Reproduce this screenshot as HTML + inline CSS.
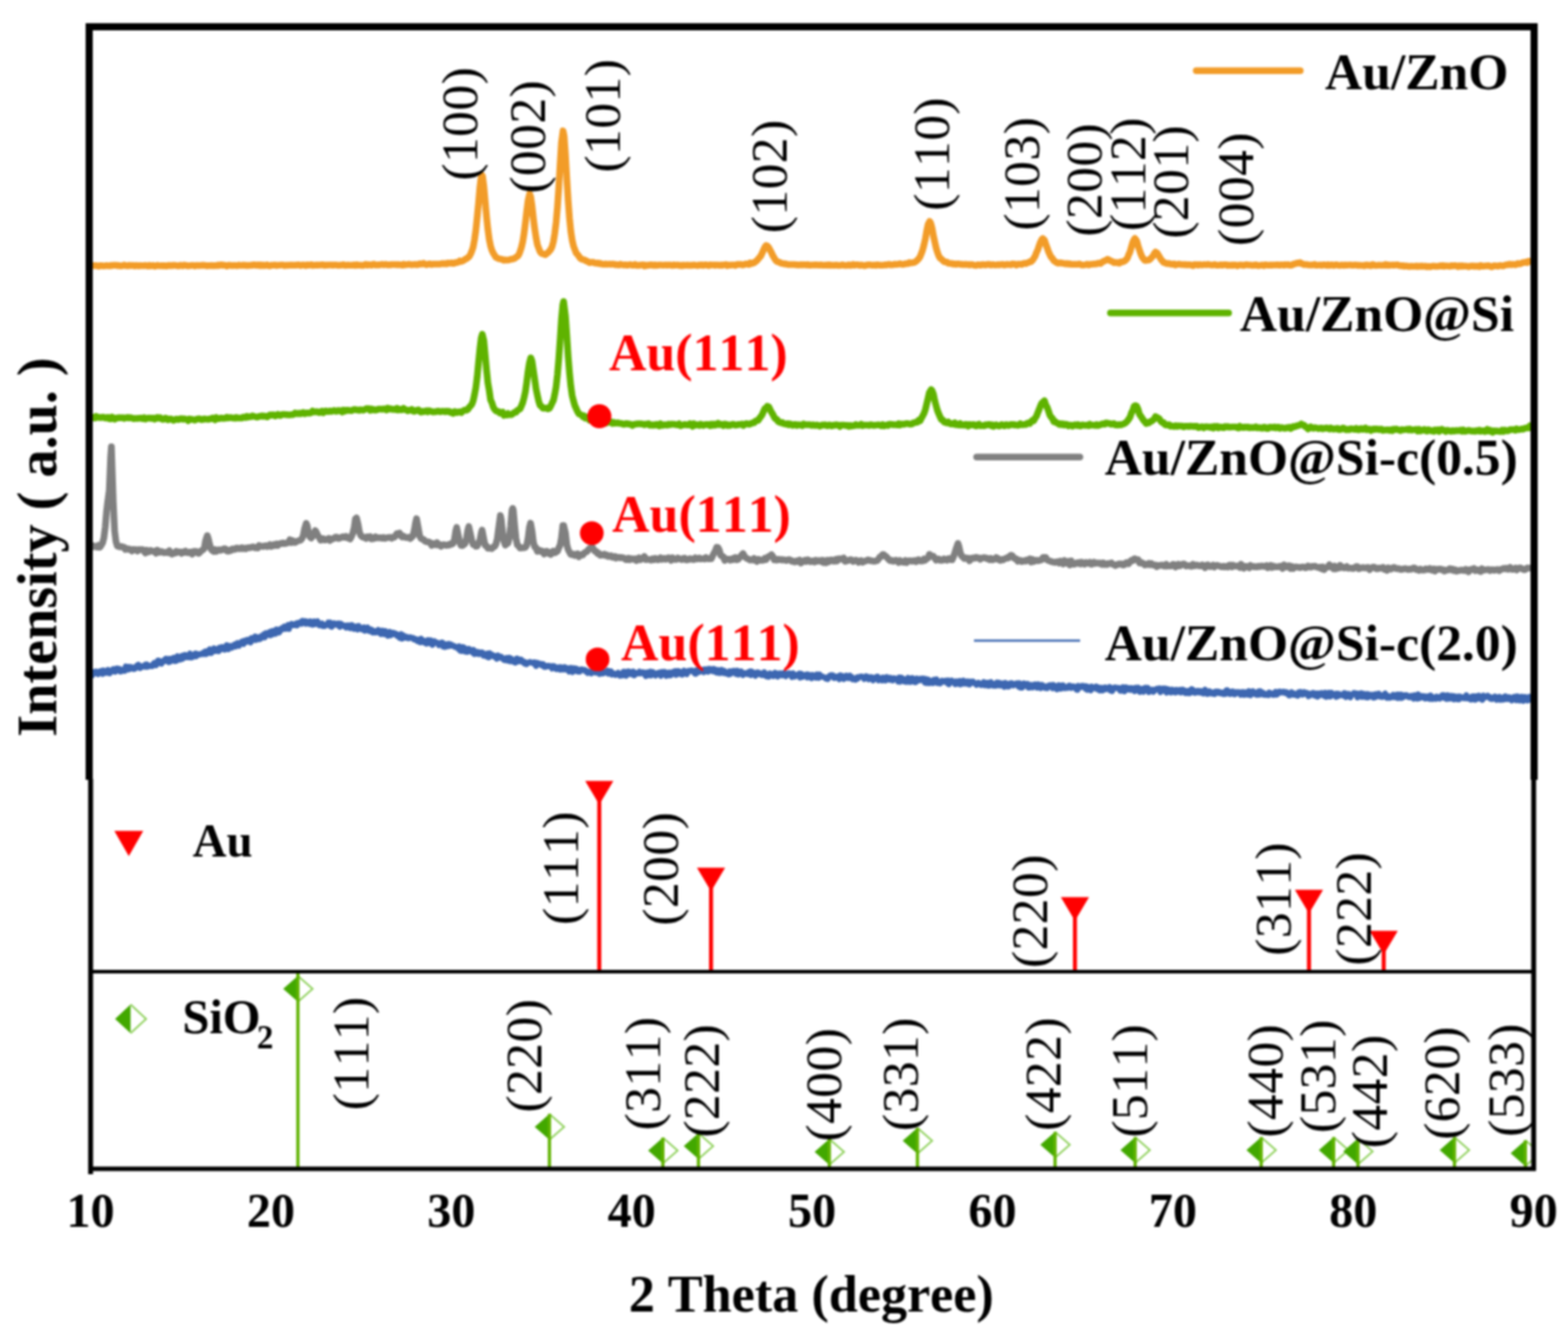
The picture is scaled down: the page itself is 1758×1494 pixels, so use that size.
<!DOCTYPE html>
<html><head><meta charset="utf-8"><title>XRD</title>
<style>html,body{margin:0;padding:0;background:#fff;}svg{display:block;}</style>
</head><body>
<svg width="1758" height="1494" viewBox="0 0 1758 1494">
<style>
text{font-family:"Liberation Serif","Times New Roman",serif;font-kerning:none;}
.hkl{font-size:58px;text-anchor:middle;letter-spacing:0.4px;fill:#000;}
.b{font-weight:bold;}
.leg{font-weight:bold;font-size:57.8px;fill:#000;}
.au{font-weight:bold;font-size:58.2px;fill:#FF0000;}
.tick{font-weight:bold;font-size:54px;text-anchor:middle;fill:#000;}
</style>
<defs><filter id="soft" x="0" y="0" width="1" height="1" color-interpolation-filters="sRGB"><feGaussianBlur stdDeviation="1"/></filter></defs>
<g filter="url(#soft)">
<rect width="1758" height="1494" fill="#fff"/>
<defs><clipPath id="cl"><rect x="101" y="880" width="1616" height="430"/></clipPath></defs>
<g clip-path="url(#cl)">
<polygon points="317.5,1108.2 334.0,1093.7 334.0,1122.7" fill="#42A800"/><polyline points="334.0,1093.7 350.5,1108.2 334.0,1122.7" fill="none" stroke="#8ED05A" stroke-width="2"/><line x1="334" y1="1091" x2="334" y2="1310" stroke="#5FB300" stroke-width="3.6"/><polygon points="599.5,1262.9 616.0,1248.4 616.0,1277.4" fill="#42A800"/><polyline points="616.0,1248.4 632.5,1262.9 616.0,1277.4" fill="none" stroke="#8ED05A" stroke-width="2"/><line x1="616" y1="1248.4" x2="616" y2="1310" stroke="#5FB300" stroke-width="3.6"/><polygon points="726.7,1289.5 743.2,1275.0 743.2,1304.0" fill="#42A800"/><polyline points="743.2,1275.0 759.7,1289.5 743.2,1304.0" fill="none" stroke="#8ED05A" stroke-width="2"/><line x1="743.2" y1="1275.0" x2="743.2" y2="1310" stroke="#5FB300" stroke-width="3.6"/><polygon points="766.6,1284.5 783.1,1270.0 783.1,1299.0" fill="#42A800"/><polyline points="783.1,1270.0 799.6,1284.5 783.1,1299.0" fill="none" stroke="#8ED05A" stroke-width="2"/><line x1="783.1" y1="1270.0" x2="783.1" y2="1310" stroke="#5FB300" stroke-width="3.6"/><polygon points="913.3,1291.0 929.8,1276.5 929.8,1305.5" fill="#42A800"/><polyline points="929.8,1276.5 946.3,1291.0 929.8,1305.5" fill="none" stroke="#8ED05A" stroke-width="2"/><line x1="929.8" y1="1276.5" x2="929.8" y2="1310" stroke="#5FB300" stroke-width="3.6"/><polygon points="1012.1,1278.6 1028.6,1264.1 1028.6,1293.1" fill="#42A800"/><polyline points="1028.6,1264.1 1045.1,1278.6 1028.6,1293.1" fill="none" stroke="#8ED05A" stroke-width="2"/><line x1="1028.6" y1="1264.1" x2="1028.6" y2="1310" stroke="#5FB300" stroke-width="3.6"/><polygon points="1166.4,1283.1 1182.9,1268.6 1182.9,1297.6" fill="#42A800"/><polyline points="1182.9,1268.6 1199.4,1283.1 1182.9,1297.6" fill="none" stroke="#8ED05A" stroke-width="2"/><line x1="1182.9" y1="1268.6" x2="1182.9" y2="1310" stroke="#5FB300" stroke-width="3.6"/><polygon points="1256.2,1289.0 1272.7,1274.5 1272.7,1303.5" fill="#42A800"/><polyline points="1272.7,1274.5 1289.2,1289.0 1272.7,1303.5" fill="none" stroke="#8ED05A" stroke-width="2"/><line x1="1272.7" y1="1274.5" x2="1272.7" y2="1310" stroke="#5FB300" stroke-width="3.6"/><polygon points="1397.5,1289.0 1414.0,1274.5 1414.0,1303.5" fill="#42A800"/><polyline points="1414.0,1274.5 1430.5,1289.0 1414.0,1303.5" fill="none" stroke="#8ED05A" stroke-width="2"/><line x1="1414" y1="1274.5" x2="1414" y2="1310" stroke="#5FB300" stroke-width="3.6"/><polygon points="1478.7,1289.0 1495.2,1274.5 1495.2,1303.5" fill="#42A800"/><polyline points="1495.2,1274.5 1511.7,1289.0 1495.2,1303.5" fill="none" stroke="#8ED05A" stroke-width="2"/><line x1="1495.2" y1="1274.5" x2="1495.2" y2="1310" stroke="#5FB300" stroke-width="3.6"/><polygon points="1506.0,1290.6 1522.5,1276.1 1522.5,1305.1" fill="#42A800"/><polyline points="1522.5,1276.1 1539.0,1290.6 1522.5,1305.1" fill="none" stroke="#8ED05A" stroke-width="2"/><line x1="1522.5" y1="1276.1" x2="1522.5" y2="1310" stroke="#5FB300" stroke-width="3.6"/><polygon points="1614.2,1289.0 1630.7,1274.5 1630.7,1303.5" fill="#42A800"/><polyline points="1630.7,1274.5 1647.2,1289.0 1630.7,1303.5" fill="none" stroke="#8ED05A" stroke-width="2"/><line x1="1630.7" y1="1274.5" x2="1630.7" y2="1310" stroke="#5FB300" stroke-width="3.6"/><polygon points="1693.7,1292.4 1710.2,1277.9 1710.2,1306.9" fill="#42A800"/><polyline points="1710.2,1277.9 1726.7,1292.4 1710.2,1306.9" fill="none" stroke="#8ED05A" stroke-width="2"/><line x1="1710.2" y1="1277.9" x2="1710.2" y2="1310" stroke="#5FB300" stroke-width="3.6"/>
</g>
<line x1="671.9" y1="885.3" x2="671.9" y2="1089" stroke="#FF0000" stroke-width="4.5"/><polygon points="656.1,875.3 687.6999999999999,875.3 671.9,901.8" fill="#FF0000"/><line x1="797.2" y1="982.4" x2="797.2" y2="1089" stroke="#FF0000" stroke-width="4.5"/><polygon points="781.4000000000001,972.4 813.0,972.4 797.2,998.9" fill="#FF0000"/><line x1="1205.2" y1="1015.5" x2="1205.2" y2="1089" stroke="#FF0000" stroke-width="4.5"/><polygon points="1189.4,1005.5 1221.0,1005.5 1205.2,1032.0" fill="#FF0000"/><line x1="1467.6" y1="1007.3" x2="1467.6" y2="1089" stroke="#FF0000" stroke-width="4.5"/><polygon points="1451.8,997.3 1483.3999999999999,997.3 1467.6,1023.8" fill="#FF0000"/><line x1="1551.4" y1="1053.2" x2="1551.4" y2="1089" stroke="#FF0000" stroke-width="4.5"/><polygon points="1535.6000000000001,1043.2 1567.2,1043.2 1551.4,1069.7" fill="#FF0000"/>
<path d="M100.0 753.7L101.0 755.1L102.0 754.0L103.0 757.5L104.0 755.6L105.0 753.7L106.0 752.9L107.0 754.5L108.0 752.6L109.0 754.5L110.0 755.6L111.0 753.2L112.0 752.3L113.0 753.2L114.0 752.0L115.0 755.4L116.0 751.3L117.0 754.5L118.0 752.2L119.0 754.1L120.0 754.2L121.0 750.7L122.0 753.8L123.0 754.6L124.0 752.5L125.0 752.7L126.0 750.9L127.0 749.9L128.0 752.7L129.0 753.0L130.0 749.6L131.0 749.0L132.0 750.1L133.0 751.3L134.0 749.8L135.0 752.7L136.0 751.7L137.0 752.2L138.0 750.4L139.0 751.0L140.0 751.9L141.0 746.9L142.0 749.6L143.0 747.4L144.0 750.4L145.0 747.3L146.0 749.8L147.0 747.5L148.0 749.0L149.0 749.0L150.0 750.0L151.0 749.7L152.0 747.3L153.0 748.4L154.0 745.6L155.0 745.0L156.0 748.0L157.0 748.9L158.0 747.9L159.0 746.5L160.0 746.9L161.0 747.3L162.0 746.3L163.0 745.0L164.0 747.4L165.0 744.7L166.0 747.2L167.0 746.5L168.0 746.2L169.0 746.2L170.0 746.8L171.0 746.6L172.0 743.9L173.0 743.0L174.0 744.6L175.0 745.6L176.0 743.7L177.0 740.3L178.0 740.2L179.0 742.2L180.0 743.6L181.0 743.9L182.0 741.0L183.0 741.6L184.0 741.3L185.0 738.9L186.0 738.2L187.0 740.7L188.0 740.4L189.0 742.1L190.0 738.3L191.0 741.6L192.0 738.3L193.0 739.5L194.0 740.2L195.0 737.0L196.0 741.0L197.0 740.8L198.0 740.7L199.0 735.4L200.0 738.6L201.0 738.5L202.0 739.3L203.0 735.6L204.0 735.0L205.0 738.3L206.0 735.3L207.0 734.0L208.0 734.0L209.0 736.6L210.0 735.8L211.0 736.7L212.0 736.8L213.0 732.4L214.0 737.0L215.0 736.5L216.0 736.6L217.0 735.5L218.0 733.3L219.0 732.4L220.0 735.6L221.0 732.9L222.0 733.0L223.0 733.9L224.0 733.6L225.0 733.4L226.0 732.8L227.0 732.0L228.0 733.1L229.0 731.0L230.0 730.1L231.0 733.2L232.0 732.7L233.0 731.8L234.0 728.7L235.0 727.8L236.0 732.1L237.0 732.0L238.0 728.3L239.0 729.9L240.0 726.5L241.0 728.2L242.0 729.6L243.0 727.6L244.0 729.7L245.0 730.0L246.0 725.7L247.0 728.3L248.0 726.5L249.0 725.2L250.0 725.9L251.0 726.3L252.0 728.2L253.0 727.3L254.0 723.1L255.0 723.2L256.0 727.8L257.0 725.3L258.0 725.4L259.0 723.8L260.0 726.0L261.0 724.4L262.0 724.3L263.0 722.3L264.0 724.7L265.0 721.5L266.0 720.8L267.0 722.9L268.0 723.8L269.0 720.7L270.0 720.4L271.0 719.3L272.0 721.3L273.0 721.8L274.0 718.1L275.0 719.9L276.0 719.6L277.0 717.0L278.0 718.8L279.0 717.1L280.0 716.4L281.0 720.1L282.0 715.1L283.0 716.1L284.0 717.2L285.0 715.7L286.0 713.3L287.0 717.4L288.0 713.8L289.0 714.3L290.0 716.6L291.0 716.5L292.0 715.9L293.0 712.9L294.0 714.3L295.0 714.5L296.0 710.8L297.0 714.4L298.0 709.6L299.0 712.1L300.0 709.6L301.0 709.1L302.0 708.4L303.0 712.2L304.0 707.6L305.0 711.4L306.0 707.1L307.0 707.6L308.0 706.7L309.0 710.4L310.0 705.4L311.0 709.0L312.0 705.8L313.0 708.8L314.0 707.4L315.0 704.6L316.0 705.5L317.0 703.4L318.0 704.3L319.0 702.0L320.0 705.0L321.0 704.2L322.0 702.2L323.0 700.5L324.0 705.0L325.0 700.4L326.0 701.1L327.0 699.2L328.0 700.7L329.0 700.5L330.0 700.8L331.0 699.4L332.0 698.7L333.0 701.1L334.0 698.1L335.0 698.1L336.0 698.6L337.0 697.1L338.0 699.2L339.0 695.7L340.0 696.8L341.0 697.1L342.0 696.2L343.0 699.2L344.0 696.6L345.0 697.0L346.0 697.4L347.0 699.3L348.0 696.3L349.0 699.5L350.0 700.2L351.0 696.8L352.0 696.4L353.0 699.7L354.0 697.3L355.0 697.0L356.0 696.3L357.0 699.2L358.0 701.0L359.0 700.8L360.0 699.4L361.0 698.7L362.0 701.6L363.0 700.0L364.0 701.7L365.0 700.4L366.0 700.5L367.0 700.6L368.0 697.7L369.0 698.5L370.0 697.6L371.0 702.2L372.0 702.6L373.0 700.7L374.0 698.5L375.0 698.4L376.0 700.2L377.0 700.0L378.0 699.1L379.0 698.6L380.0 701.6L381.0 702.5L382.0 698.8L383.0 700.1L384.0 700.2L385.0 701.6L386.0 702.0L387.0 701.1L388.0 703.5L389.0 701.2L390.0 700.8L391.0 703.3L392.0 703.8L393.0 704.1L394.0 700.5L395.0 700.7L396.0 702.2L397.0 704.9L398.0 703.2L399.0 703.4L400.0 702.0L401.0 705.6L402.0 701.5L403.0 703.6L404.0 704.4L405.0 705.3L406.0 705.5L407.0 703.5L408.0 703.1L409.0 707.0L410.0 705.0L411.0 703.8L412.0 703.2L413.0 706.9L414.0 707.4L415.0 706.1L416.0 705.4L417.0 707.0L418.0 708.9L419.0 707.0L420.0 708.3L421.0 709.0L422.0 708.6L423.0 707.4L424.0 706.0L425.0 708.9L426.0 709.8L427.0 710.7L428.0 706.7L429.0 706.7L430.0 709.6L431.0 710.8L432.0 707.2L433.0 710.2L434.0 708.6L435.0 712.6L436.0 709.5L437.0 708.2L438.0 712.1L439.0 709.8L440.0 710.6L441.0 709.3L442.0 710.6L443.0 709.8L444.0 710.6L445.0 712.5L446.0 711.3L447.0 713.4L448.0 714.8L449.0 713.4L450.0 710.7L451.0 715.8L452.0 712.0L453.0 713.0L454.0 714.2L455.0 714.9L456.0 713.6L457.0 714.3L458.0 715.5L459.0 714.9L460.0 714.2L461.0 715.0L462.0 715.1L463.0 714.8L464.0 716.7L465.0 716.4L466.0 716.1L467.0 717.9L468.0 718.6L469.0 718.0L470.0 716.6L471.0 719.9L472.0 715.7L473.0 719.6L474.0 717.8L475.0 717.8L476.0 720.3L477.0 719.5L478.0 721.4L479.0 721.1L480.0 717.3L481.0 719.5L482.0 721.0L483.0 717.7L484.0 720.2L485.0 722.8L486.0 719.0L487.0 718.6L488.0 719.7L489.0 720.1L490.0 720.0L491.0 721.0L492.0 723.2L493.0 721.8L494.0 722.3L495.0 720.0L496.0 720.0L497.0 724.8L498.0 721.9L499.0 725.2L500.0 722.2L501.0 724.0L502.0 724.4L503.0 721.6L504.0 721.8L505.0 723.9L506.0 722.5L507.0 723.7L508.0 723.4L509.0 724.2L510.0 725.2L511.0 724.7L512.0 725.1L513.0 726.1L514.0 727.4L515.0 724.3L516.0 729.5L517.0 726.8L518.0 729.6L519.0 725.1L520.0 725.6L521.0 726.1L522.0 730.5L523.0 728.2L524.0 730.7L525.0 730.1L526.0 727.2L527.0 728.9L528.0 729.0L529.0 729.9L530.0 731.7L531.0 728.4L532.0 733.1L533.0 731.0L534.0 730.6L535.0 732.6L536.0 730.7L537.0 733.2L538.0 731.8L539.0 732.4L540.0 731.1L541.0 731.4L542.0 735.0L543.0 733.7L544.0 733.1L545.0 735.2L546.0 736.1L547.0 732.3L548.0 736.9L549.0 732.0L550.0 735.3L551.0 733.7L552.0 733.8L553.0 735.3L554.0 736.0L555.0 735.3L556.0 737.0L557.0 738.4L558.0 734.5L559.0 735.1L560.0 737.2L561.0 736.4L562.0 736.1L563.0 737.3L564.0 738.4L565.0 739.7L566.0 740.1L567.0 739.7L568.0 737.4L569.0 740.4L570.0 739.7L571.0 737.1L572.0 741.3L573.0 737.9L574.0 740.3L575.0 740.6L576.0 741.9L577.0 740.8L578.0 742.7L579.0 738.1L580.0 738.1L581.0 739.2L582.0 741.3L583.0 740.7L584.0 739.1L585.0 740.0L586.0 742.1L587.0 741.4L588.0 743.5L589.0 742.1L590.0 744.5L591.0 744.0L592.0 742.8L593.0 742.3L594.0 741.8L595.0 742.4L596.0 742.9L597.0 743.1L598.0 742.4L599.0 744.1L600.0 742.4L601.0 746.5L602.0 745.1L603.0 742.9L604.0 744.3L605.0 744.1L606.0 743.8L607.0 745.6L608.0 744.3L609.0 744.3L610.0 747.3L611.0 746.0L612.0 747.4L613.0 746.5L614.0 746.9L615.0 746.0L616.0 746.8L617.0 747.2L618.0 746.6L619.0 749.3L620.0 746.4L621.0 746.4L622.0 747.2L623.0 749.7L624.0 750.1L625.0 748.8L626.0 747.9L627.0 749.5L628.0 750.6L629.0 747.7L630.0 750.1L631.0 750.5L632.0 748.9L633.0 747.8L634.0 750.4L635.0 748.5L636.0 749.4L637.0 750.5L638.0 752.8L639.0 748.7L640.0 748.5L641.0 751.1L642.0 753.3L643.0 748.8L644.0 752.0L645.0 749.0L646.0 751.8L647.0 749.7L648.0 752.6L649.0 751.2L650.0 752.8L651.0 750.8L652.0 750.0L653.0 750.6L654.0 751.2L655.0 750.7L656.0 750.9L657.0 752.8L658.0 752.3L659.0 754.4L660.0 752.8L661.0 753.0L662.0 754.0L663.0 754.8L664.0 753.5L665.0 750.7L666.0 753.0L667.0 750.8L668.0 753.9L669.0 751.2L670.0 753.7L671.0 751.7L672.0 755.5L673.0 751.6L674.0 754.6L675.0 754.9L676.0 752.7L677.0 754.5L678.0 753.2L679.0 752.9L680.0 753.0L681.0 751.8L682.0 755.2L683.0 752.2L684.0 752.9L685.0 752.4L686.0 756.2L687.0 754.9L688.0 754.6L689.0 755.3L690.0 756.5L691.0 755.6L692.0 755.0L693.0 754.0L694.0 755.1L695.0 757.5L696.0 755.4L697.0 754.9L698.0 757.1L699.0 752.7L700.0 752.8L701.0 756.6L702.0 757.4L703.0 752.7L704.0 752.6L705.0 752.5L706.0 755.5L707.0 753.2L708.0 755.4L709.0 756.0L710.0 752.6L711.0 757.0L712.0 753.8L713.0 755.4L714.0 754.4L715.0 754.3L716.0 754.6L717.0 752.6L718.0 754.8L719.0 753.9L720.0 754.4L721.0 753.4L722.0 754.3L723.0 756.2L724.0 757.7L725.0 753.6L726.0 757.1L727.0 755.8L728.0 753.1L729.0 752.7L730.0 757.2L731.0 753.8L732.0 753.2L733.0 756.0L734.0 756.3L735.0 757.3L736.0 755.3L737.0 754.3L738.0 754.3L739.0 753.7L740.0 755.9L741.0 757.5L742.0 753.0L743.0 754.6L744.0 754.4L745.0 752.9L746.0 755.5L747.0 757.5L748.0 753.8L749.0 756.0L750.0 756.9L751.0 753.5L752.0 756.8L753.0 755.9L754.0 755.3L755.0 752.9L756.0 753.3L757.0 752.3L758.0 756.4L759.0 755.8L760.0 752.0L761.0 754.3L762.0 752.6L763.0 755.4L764.0 754.3L765.0 756.2L766.0 755.0L767.0 751.6L768.0 753.0L769.0 754.0L770.0 755.7L771.0 752.8L772.0 751.8L773.0 752.2L774.0 752.0L775.0 751.4L776.0 752.3L777.0 751.8L778.0 753.1L779.0 755.0L780.0 755.2L781.0 751.0L782.0 753.1L783.0 753.5L784.0 750.7L785.0 752.6L786.0 750.7L787.0 751.5L788.0 751.1L789.0 753.5L790.0 750.2L791.0 751.6L792.0 751.6L793.0 750.0L794.0 752.9L795.0 749.6L795.6 749.6L797.0 751.6L798.0 750.8L799.0 752.3L800.0 749.5L801.0 749.8L802.0 753.1L803.0 751.4L804.0 754.0L805.0 750.9L806.0 751.1L807.0 754.5L808.0 751.9L809.0 750.7L810.0 751.4L811.0 754.3L812.0 751.8L813.0 753.4L814.0 754.9L815.0 753.8L816.0 754.6L817.0 755.9L818.0 752.4L819.0 755.5L820.0 753.9L821.0 752.1L822.0 751.8L823.0 752.9L824.0 752.0L825.0 755.4L826.0 754.3L827.0 751.7L828.0 756.1L829.0 754.7L830.0 754.0L831.0 752.5L832.0 754.3L833.0 756.7L834.0 755.0L835.0 754.4L836.0 755.3L837.0 755.0L838.0 755.5L839.0 753.3L840.0 753.1L841.0 752.5L842.0 756.8L843.0 752.6L844.0 753.9L845.0 755.7L846.0 755.3L847.0 757.5L848.0 753.9L849.0 753.4L850.0 753.7L851.0 755.5L852.0 754.5L853.0 755.4L854.0 756.6L855.0 754.8L856.0 756.6L857.0 753.3L858.0 756.1L859.0 758.0L860.0 758.2L861.0 756.3L862.0 758.5L863.0 754.6L864.0 755.0L865.0 755.8L866.0 756.2L867.0 757.8L868.0 756.0L869.0 753.9L870.0 757.3L871.0 754.9L872.0 758.4L873.0 754.9L874.0 755.4L875.0 754.6L876.0 755.5L877.0 757.1L878.0 755.4L879.0 754.3L880.0 757.2L881.0 758.0L882.0 754.8L883.0 756.4L884.0 754.6L885.0 754.4L886.0 756.3L887.0 755.9L888.0 759.0L889.0 754.5L890.0 757.9L891.0 758.4L892.0 756.8L893.0 757.2L894.0 756.0L895.0 756.0L896.0 755.0L897.0 759.5L898.0 755.0L899.0 755.6L900.0 758.7L901.0 757.3L902.0 757.7L903.0 756.6L904.0 755.9L905.0 759.3L906.0 755.8L907.0 756.7L908.0 759.1L909.0 756.8L910.0 760.3L911.0 756.3L912.0 758.1L913.0 758.2L914.0 758.1L915.0 759.5L916.0 755.8L917.0 758.4L918.0 759.7L919.0 755.9L920.0 758.6L921.0 758.0L922.0 757.9L923.0 758.6L924.0 759.1L925.0 759.6L926.0 760.6L927.0 759.4L928.0 761.2L929.0 759.5L930.0 757.5L931.0 756.9L932.0 756.6L933.0 757.6L934.0 756.9L935.0 759.9L936.0 759.9L937.0 759.6L938.0 758.4L939.0 758.9L940.0 757.9L941.0 761.3L942.0 756.7L943.0 758.3L944.0 759.7L945.0 757.7L946.0 761.2L947.0 759.3L948.0 758.8L949.0 757.2L950.0 758.4L951.0 760.0L952.0 758.4L953.0 757.3L954.0 760.1L955.0 758.7L956.0 761.5L957.0 760.8L958.0 761.0L959.0 761.9L960.0 761.5L961.0 759.0L962.0 760.3L963.0 758.7L964.0 758.5L965.0 758.5L966.0 758.1L967.0 758.8L968.0 758.8L969.0 761.1L970.0 759.0L971.0 757.9L972.0 759.9L973.0 758.8L974.0 761.4L975.0 759.0L976.0 760.8L977.0 758.8L978.0 760.5L979.0 762.5L980.0 759.6L981.0 760.8L982.0 760.4L983.0 758.5L984.0 758.3L985.0 762.6L986.0 760.0L987.0 761.9L988.0 760.5L989.0 762.7L990.0 759.4L991.0 761.0L992.0 761.3L993.0 762.7L994.0 758.7L995.0 760.5L996.0 761.1L997.0 761.8L998.0 759.5L999.0 761.6L1000.0 762.4L1001.0 762.7L1002.0 760.1L1003.0 761.2L1004.0 760.5L1005.0 761.1L1006.0 761.0L1007.0 764.0L1008.0 759.2L1009.0 764.2L1010.0 759.4L1011.0 759.7L1012.0 760.4L1013.0 760.9L1014.0 763.9L1015.0 763.9L1016.0 764.4L1017.0 761.6L1018.0 759.7L1019.0 762.9L1020.0 764.4L1021.0 760.3L1022.0 764.1L1023.0 759.9L1024.0 763.7L1025.0 762.5L1026.0 764.7L1027.0 764.6L1028.0 760.4L1029.0 762.8L1030.0 761.5L1031.0 762.5L1032.0 760.7L1033.0 762.2L1034.0 762.5L1035.0 760.5L1036.0 763.0L1037.0 765.2L1038.0 760.9L1039.0 765.6L1040.0 763.2L1041.0 761.8L1042.0 765.8L1043.0 763.3L1044.0 763.1L1045.0 762.9L1046.0 765.6L1047.0 761.7L1048.0 762.2L1049.0 762.6L1050.0 761.5L1051.0 765.6L1052.0 763.8L1053.0 764.4L1054.0 766.0L1055.0 764.0L1056.0 762.9L1057.0 764.2L1058.0 764.1L1059.0 763.1L1060.0 762.8L1061.0 763.5L1062.0 765.5L1063.0 762.6L1064.0 767.0L1065.0 763.1L1066.0 763.3L1067.0 762.6L1068.0 764.0L1069.0 764.0L1070.0 765.6L1071.0 766.8L1072.0 763.5L1073.0 766.5L1074.0 763.9L1075.0 764.5L1076.0 763.1L1077.0 767.1L1078.0 764.4L1079.0 766.2L1080.0 762.7L1081.0 766.2L1082.0 763.8L1083.0 765.1L1084.0 766.3L1085.0 763.7L1086.0 765.6L1087.0 767.2L1088.0 763.8L1089.0 765.4L1090.0 764.0L1091.0 763.8L1092.0 765.7L1093.0 765.6L1094.0 766.6L1095.0 767.7L1096.0 767.0L1097.0 765.1L1098.0 765.9L1099.0 767.0L1100.0 767.9L1101.0 767.1L1102.0 766.2L1103.0 764.4L1104.0 768.2L1105.0 765.2L1106.0 765.9L1107.0 768.4L1108.0 765.0L1109.0 768.7L1110.0 765.2L1111.0 764.5L1112.0 766.8L1113.0 768.3L1114.0 766.3L1115.0 768.6L1116.0 766.3L1117.0 768.6L1118.0 764.9L1119.0 765.9L1120.0 765.1L1121.0 768.4L1122.0 767.0L1123.0 768.0L1124.0 765.9L1125.0 768.5L1126.0 769.9L1127.0 765.2L1128.0 766.5L1129.0 769.4L1130.0 769.4L1131.0 769.5L1132.0 766.2L1133.0 768.0L1134.0 765.6L1135.0 767.4L1136.0 768.2L1137.0 766.6L1138.0 767.5L1139.0 767.3L1140.0 765.8L1141.0 765.8L1142.0 769.6L1143.0 765.6L1144.0 770.7L1145.0 770.3L1146.0 770.8L1147.0 769.8L1148.0 765.8L1149.0 766.4L1150.0 767.5L1151.0 766.9L1152.0 766.3L1153.0 770.8L1154.0 770.8L1155.0 770.1L1156.0 767.5L1157.0 770.6L1158.0 770.5L1159.0 768.0L1160.0 767.0L1161.0 767.1L1162.0 768.6L1163.0 770.8L1164.0 766.9L1165.0 768.8L1166.0 768.5L1167.0 771.3L1168.0 767.5L1169.0 770.2L1170.0 768.5L1171.0 770.2L1172.0 771.2L1173.0 771.2L1174.0 771.4L1175.0 768.6L1176.0 768.5L1177.0 767.8L1178.0 768.5L1179.0 767.9L1180.0 771.4L1181.0 767.6L1182.0 768.4L1183.0 771.5L1184.0 771.5L1185.0 772.6L1186.0 769.6L1187.0 767.9L1188.0 771.9L1189.0 769.2L1190.0 771.8L1191.0 767.9L1192.0 768.0L1193.0 771.0L1194.0 771.5L1195.0 770.9L1196.0 770.8L1197.0 771.1L1198.0 768.7L1199.0 768.4L1200.0 769.9L1201.0 771.0L1202.0 769.5L1203.0 769.1L1204.0 770.6L1205.0 770.4L1206.0 769.7L1207.0 773.1L1208.0 773.3L1209.0 768.6L1210.0 770.9L1211.0 769.7L1212.0 770.2L1213.0 768.6L1214.0 768.9L1215.0 768.7L1216.0 769.2L1217.0 772.0L1218.0 769.1L1219.0 773.3L1220.0 772.9L1221.0 770.1L1222.0 772.4L1223.0 773.7L1224.0 769.4L1225.0 771.8L1226.0 771.3L1227.0 770.5L1228.0 770.4L1229.0 769.4L1230.0 772.4L1231.0 770.1L1232.0 771.3L1233.0 773.9L1234.0 770.9L1235.0 770.8L1236.0 774.0L1237.0 772.3L1238.0 772.2L1239.0 770.4L1240.0 772.6L1241.0 771.3L1242.0 772.2L1243.0 771.5L1244.0 769.8L1245.0 774.0L1246.0 773.1L1247.0 774.5L1248.0 771.1L1249.0 771.0L1250.0 770.3L1251.0 771.2L1252.0 771.4L1253.0 770.7L1254.0 771.1L1255.0 771.3L1256.0 774.2L1257.0 772.1L1258.0 774.1L1259.0 770.1L1260.0 770.9L1261.0 774.9L1262.0 770.2L1263.0 770.4L1264.0 772.7L1265.0 771.6L1266.0 771.1L1267.0 773.3L1268.0 773.3L1269.0 771.2L1270.0 773.0L1271.0 772.6L1272.0 774.7L1273.0 770.7L1274.0 771.5L1275.0 773.3L1276.0 770.6L1277.0 774.8L1278.0 775.5L1279.0 772.2L1280.0 774.5L1281.0 771.8L1282.0 775.5L1283.0 771.7L1284.0 770.7L1285.0 771.0L1286.0 773.1L1287.0 770.9L1288.0 775.8L1289.0 774.1L1290.0 773.8L1291.0 774.1L1292.0 773.0L1293.0 775.5L1294.0 774.6L1295.0 773.2L1296.0 772.5L1297.0 771.8L1298.0 772.7L1299.0 772.9L1300.0 771.5L1301.0 775.9L1302.0 772.5L1303.0 774.0L1304.0 771.6L1305.0 774.1L1306.0 774.6L1307.0 771.7L1308.0 776.4L1309.0 772.2L1310.0 772.8L1311.0 775.3L1312.0 773.2L1313.0 776.1L1314.0 772.8L1315.0 773.2L1316.0 775.2L1317.0 776.1L1318.0 776.2L1319.0 773.2L1320.0 774.5L1321.0 773.9L1322.0 775.3L1323.0 773.0L1324.0 776.2L1325.0 775.6L1326.0 772.8L1327.0 773.5L1328.0 773.7L1329.0 776.8L1330.0 774.4L1331.0 775.2L1332.0 776.9L1333.0 774.2L1334.0 777.0L1335.0 773.7L1336.0 772.3L1337.0 772.7L1338.0 775.8L1339.0 774.3L1340.0 776.6L1341.0 775.1L1342.0 775.9L1343.0 774.2L1344.0 775.5L1345.0 776.1L1346.0 774.4L1347.0 775.1L1348.0 776.9L1349.0 777.4L1350.0 774.4L1351.0 773.0L1352.0 777.0L1353.0 775.0L1354.0 777.8L1355.0 776.7L1356.0 774.7L1357.0 777.2L1358.0 775.7L1359.0 776.6L1360.0 777.5L1361.0 776.0L1362.0 777.9L1363.0 775.1L1364.0 775.0L1365.0 776.4L1366.0 775.2L1367.0 776.8L1368.0 775.9L1369.0 777.0L1370.0 777.5L1371.0 776.2L1372.0 778.0L1373.0 777.4L1374.0 777.8L1375.0 773.5L1376.0 773.5L1377.0 776.7L1378.0 775.2L1379.0 778.0L1380.0 775.5L1381.0 777.4L1382.0 774.8L1383.0 776.9L1384.0 778.3L1385.0 778.1L1386.0 775.6L1387.0 776.2L1388.0 776.5L1389.0 775.6L1390.0 776.3L1391.0 778.8L1392.0 778.4L1393.0 775.5L1394.0 777.5L1395.0 778.9L1396.0 775.9L1397.0 778.4L1398.0 778.2L1399.0 778.7L1400.0 774.5L1401.0 778.9L1402.0 779.3L1403.0 775.4L1404.0 777.5L1405.0 774.7L1406.0 777.4L1407.0 778.0L1408.0 778.2L1409.0 778.8L1410.0 775.9L1411.0 775.0L1412.0 778.7L1413.0 774.6L1414.0 775.7L1415.0 775.7L1416.0 778.5L1417.0 776.8L1418.0 778.9L1419.0 778.0L1420.0 779.0L1421.0 778.7L1422.0 779.2L1423.0 776.1L1424.0 776.5L1425.0 777.9L1426.0 777.7L1427.0 778.8L1428.0 778.9L1429.0 776.3L1430.0 775.4L1431.0 778.7L1432.0 778.4L1433.0 776.3L1434.0 775.2L1435.0 775.0L1436.0 776.2L1437.0 776.3L1438.0 776.0L1439.0 775.2L1440.0 775.9L1441.0 776.8L1442.0 775.5L1443.0 776.1L1444.0 777.3L1445.0 779.5L1446.0 779.6L1447.0 777.2L1448.0 775.8L1449.0 776.6L1450.0 778.7L1451.0 777.3L1452.0 778.2L1453.0 779.1L1454.0 778.7L1455.0 779.8L1456.0 775.8L1457.0 776.9L1458.0 775.5L1459.0 778.1L1460.0 778.6L1461.0 776.7L1462.0 775.7L1463.0 777.9L1464.0 776.3L1465.0 776.5L1466.0 777.5L1467.0 780.4L1468.0 777.4L1469.0 779.3L1470.0 777.5L1471.0 777.7L1472.0 776.4L1473.0 776.6L1474.0 779.7L1475.0 777.9L1476.0 777.2L1477.0 780.9L1478.0 780.3L1479.0 777.2L1480.0 778.1L1481.0 778.8L1482.0 776.7L1483.0 778.1L1484.0 777.4L1485.0 780.1L1486.0 776.4L1487.0 781.1L1488.0 777.2L1489.0 777.7L1490.0 776.4L1491.0 780.8L1492.0 780.4L1493.0 776.4L1494.0 778.8L1495.0 778.1L1496.0 779.3L1497.0 777.9L1498.0 781.1L1499.0 777.3L1500.0 780.5L1501.0 777.6L1502.0 779.6L1503.0 778.5L1504.0 779.0L1505.0 779.0L1506.0 779.6L1507.0 776.7L1508.0 776.7L1509.0 781.4L1510.0 777.7L1511.0 778.3L1512.0 777.7L1513.0 779.8L1514.0 781.6L1515.0 778.6L1516.0 778.2L1517.0 778.4L1518.0 776.7L1519.0 777.1L1520.0 776.9L1521.0 778.3L1522.0 781.8L1523.0 777.4L1524.0 779.6L1525.0 777.8L1526.0 776.9L1527.0 781.1L1528.0 777.4L1529.0 777.5L1530.0 781.1L1531.0 778.1L1532.0 777.9L1533.0 781.8L1534.0 777.9L1535.0 781.2L1536.0 778.5L1537.0 779.9L1538.0 778.6L1539.0 778.8L1540.0 781.9L1541.0 781.8L1542.0 778.0L1543.0 780.9L1544.0 777.8L1545.0 778.7L1546.0 777.5L1547.0 780.5L1548.0 781.0L1549.0 781.1L1550.0 781.3L1551.0 779.3L1552.0 778.2L1553.0 777.3L1554.0 779.6L1555.0 782.2L1556.0 779.7L1557.0 780.6L1558.0 782.2L1559.0 781.9L1560.0 781.3L1561.0 780.5L1562.0 778.7L1563.0 781.4L1564.0 779.7L1565.0 781.2L1566.0 778.7L1567.0 782.5L1568.0 778.4L1569.0 781.7L1570.0 782.3L1571.0 778.4L1572.0 782.2L1573.0 781.0L1574.0 780.9L1575.0 779.1L1576.0 779.5L1577.0 779.0L1578.0 780.1L1579.0 781.2L1580.0 781.6L1581.0 781.5L1582.0 779.7L1583.0 779.7L1584.0 781.9L1585.0 783.0L1586.0 779.1L1587.0 780.1L1588.0 779.4L1589.0 783.1L1590.0 778.1L1591.0 782.7L1592.0 782.1L1593.0 779.8L1594.0 781.7L1595.0 780.1L1596.0 781.5L1597.0 780.4L1598.0 783.0L1599.0 780.6L1600.0 782.5L1601.0 781.3L1602.0 780.2L1603.0 783.3L1604.0 779.3L1605.0 783.1L1606.0 783.5L1607.0 782.8L1608.0 781.6L1609.0 781.7L1610.0 783.3L1611.0 780.7L1612.0 782.8L1613.0 782.5L1614.0 783.0L1615.0 780.8L1616.0 782.0L1617.0 779.1L1618.0 779.0L1619.0 779.2L1620.0 782.5L1621.0 780.5L1622.0 783.4L1623.0 779.1L1624.0 779.6L1625.0 783.1L1626.0 781.0L1627.0 779.9L1628.0 782.9L1629.0 780.1L1630.0 783.9L1631.0 780.3L1632.0 783.4L1633.0 781.4L1634.0 783.8L1635.0 780.5L1636.0 783.8L1637.0 780.6L1638.0 781.4L1639.0 782.3L1640.0 781.9L1641.0 782.6L1642.0 782.7L1643.0 780.5L1644.0 779.2L1645.0 782.9L1646.0 782.3L1647.0 782.1L1648.0 781.8L1649.0 784.1L1650.0 780.8L1651.0 784.0L1652.0 780.2L1653.0 782.9L1654.0 784.2L1655.0 780.2L1656.0 783.4L1657.0 780.8L1658.0 779.7L1659.0 781.7L1660.0 783.1L1661.0 781.0L1662.0 784.5L1663.0 779.5L1664.0 780.9L1665.0 781.4L1666.0 781.5L1667.0 781.2L1668.0 779.7L1669.0 780.8L1670.0 781.0L1671.0 783.2L1672.0 781.7L1673.0 783.5L1674.0 782.1L1675.0 781.6L1676.0 780.6L1677.0 781.0L1678.0 784.5L1679.0 782.2L1680.0 781.5L1681.0 781.0L1682.0 784.5L1683.0 783.6L1684.0 783.6L1685.0 784.2L1686.0 781.3L1687.0 783.8L1688.0 780.4L1689.0 783.5L1690.0 781.8L1691.0 783.5L1692.0 781.3L1693.0 782.0L1694.0 783.7L1695.0 785.1L1696.0 782.0L1697.0 781.1L1698.0 780.9L1699.0 783.8L1700.0 784.9L1701.0 780.4L1702.0 782.1L1703.0 781.2L1704.0 785.3L1705.0 781.1L1706.0 780.8L1707.0 784.4L1708.0 785.6L1709.0 784.5L1710.0 781.1L1711.0 782.6L1712.0 783.2L1713.0 785.2L1714.0 784.5L1715.0 780.9L1716.0 783.0L1717.0 784.7" fill="none" stroke="#3D67B1" stroke-width="6.5" stroke-linejoin="round"/><path d="M100.0 613.2L101.5 613.1L103.0 612.5L104.5 611.6L106.0 612.8L107.5 612.4L109.0 613.2L110.5 611.1L112.0 613.2L113.5 611.1L115.0 608.5L116.5 602.6L118.0 590.6L119.5 572.9L120.5 564.5L122.5 549.4L124.0 513.1L124.9 500.7L127.0 562.5L128.5 594.9L130.0 606.9L131.5 612.0L133.0 612.6L134.5 612.9L136.0 612.4L137.5 613.2L139.0 613.3L140.5 615.8L142.0 614.7L143.5 615.7L145.0 615.3L146.5 616.1L148.0 617.5L149.5 615.8L151.0 616.2L152.5 615.9L154.0 617.6L155.5 616.0L157.0 616.0L158.5 615.9L160.0 616.0L161.5 617.8L163.0 619.8L164.5 616.7L166.0 618.6L167.5 618.1L169.0 616.9L170.5 617.8L172.0 617.9L173.5 617.6L175.0 620.1L176.5 616.7L178.0 618.9L179.5 618.9L181.0 618.1L182.5 618.9L184.0 619.6L185.5 619.0L187.0 619.2L188.5 619.5L190.0 617.1L191.5 620.3L193.0 621.1L194.5 620.0L196.0 620.0L197.5 617.9L199.0 619.1L200.5 618.5L202.0 618.7L203.5 620.2L205.0 618.6L206.5 619.3L208.0 617.7L209.5 619.3L211.0 619.5L212.5 618.8L214.0 618.7L215.5 621.0L217.0 618.1L218.5 618.1L220.0 618.1L221.5 619.7L223.0 620.3L224.5 618.4L226.0 617.0L227.5 616.2L229.0 614.6L230.5 606.0L232.4 600.3L233.5 603.4L235.0 610.1L236.5 615.3L238.0 617.0L239.5 618.1L241.0 615.9L242.5 617.9L244.0 616.5L245.5 616.1L247.0 616.8L248.5 616.4L250.0 615.6L251.5 614.9L253.0 615.4L254.5 617.5L256.0 617.8L257.5 616.5L259.0 616.9L260.5 615.2L262.0 615.5L263.5 615.7L265.0 614.3L266.5 614.3L268.0 615.1L269.5 614.6L271.0 613.8L272.5 615.0L274.0 614.2L275.5 615.2L277.0 614.2L278.5 613.8L280.0 614.0L281.5 613.6L283.0 613.0L284.5 613.1L286.0 614.0L287.5 613.7L289.0 614.2L290.5 611.3L292.0 612.4L293.5 612.2L295.0 612.6L296.5 611.9L298.0 611.6L299.5 612.6L301.0 611.9L302.5 610.5L304.0 612.5L305.5 612.0L307.0 610.4L308.5 611.4L310.0 609.8L311.5 611.2L313.0 609.8L314.5 609.0L316.0 609.2L317.5 608.6L319.0 609.2L320.5 609.0L322.0 608.6L323.5 607.9L325.0 604.8L326.5 608.0L328.0 605.9L329.5 607.6L331.0 608.1L332.5 607.0L334.0 606.1L335.5 605.9L337.0 605.4L338.5 603.8L340.0 600.3L341.5 592.5L343.3 586.6L344.5 589.4L346.0 598.4L347.5 601.8L349.0 603.0L350.5 601.0L352.0 597.5L353.5 594.7L355.0 597.2L356.5 600.6L358.0 602.6L359.5 605.4L361.0 603.7L362.5 603.7L364.0 605.3L365.5 604.9L367.0 604.3L368.5 603.4L370.0 605.8L371.5 603.9L373.0 604.0L374.5 603.3L376.0 602.0L377.5 602.0L379.0 603.5L380.5 603.4L382.0 602.7L383.5 601.8L385.0 601.4L386.5 602.3L388.0 601.1L389.5 603.0L391.0 602.9L392.5 604.1L394.0 601.4L395.5 597.8L397.0 592.0L398.5 581.4L399.7 580.5L401.5 587.8L403.0 596.4L404.5 600.2L406.0 601.7L407.5 602.0L409.0 602.7L410.5 603.6L412.0 601.5L413.5 602.1L415.0 601.4L416.5 604.1L418.0 603.9L419.5 603.4L421.0 601.7L422.5 602.9L424.0 602.6L425.5 602.9L427.0 602.6L428.5 603.3L430.0 602.4L431.5 603.5L433.0 603.0L434.5 602.5L436.0 602.6L437.5 602.2L439.0 603.3L440.5 602.1L442.0 602.1L443.5 600.5L445.0 598.0L447.0 598.8L448.0 597.5L449.5 600.6L451.0 601.9L452.5 600.9L454.0 602.0L455.5 602.6L457.0 602.4L458.5 602.0L460.0 603.6L461.5 602.2L463.0 600.7L464.5 594.1L466.0 585.4L467.0 581.3L469.0 592.0L470.5 600.5L472.0 603.5L473.5 604.4L475.0 604.7L476.5 606.5L478.0 607.3L479.5 607.3L481.0 607.4L482.5 609.0L484.0 611.3L485.5 609.2L487.0 610.2L488.5 610.6L490.0 608.2L491.5 610.8L493.0 610.2L494.5 612.2L496.0 610.8L497.5 610.4L499.0 610.9L500.5 611.3L502.0 610.6L503.5 611.0L505.0 609.6L506.5 610.1L508.0 609.0L509.5 604.6L511.0 594.7L512.0 591.2L514.0 601.1L515.5 608.0L517.0 611.4L518.5 611.6L520.0 610.4L521.5 609.0L523.0 603.4L524.5 594.1L525.6 590.2L527.5 598.7L529.0 605.5L530.5 610.3L532.0 610.2L533.5 612.3L535.0 612.0L536.5 608.8L538.0 605.8L539.5 597.6L540.5 594.1L542.5 604.4L544.0 611.5L545.5 611.7L547.0 614.6L548.5 614.4L550.0 614.5L551.5 614.9L553.0 613.1L554.5 612.5L556.0 610.0L557.5 604.0L559.0 592.5L561.0 577.7L562.0 582.3L563.5 597.2L565.0 606.5L566.5 610.9L568.0 609.5L569.5 608.8L571.0 602.9L572.5 589.6L574.0 572.1L574.8 569.8L575.5 571.8L577.0 588.7L578.5 603.2L580.0 610.7L581.5 612.0L583.0 614.3L584.5 614.1L586.0 614.0L587.5 613.8L589.0 613.5L590.5 611.1L592.0 603.6L593.5 591.5L594.8 586.3L596.5 595.1L598.0 607.7L599.5 613.1L601.0 613.9L602.5 618.0L604.0 617.6L605.5 616.9L607.0 618.2L608.5 617.9L610.0 620.8L611.5 619.6L613.0 617.9L614.5 620.0L616.0 619.2L617.5 621.4L619.0 618.7L620.5 617.6L622.0 619.5L623.5 618.8L625.0 617.9L626.5 614.0L628.0 610.9L629.5 602.6L631.0 589.1L632.0 589.1L634.0 597.3L635.5 610.5L637.0 615.9L638.5 618.8L640.0 621.4L641.5 621.7L643.0 621.1L644.5 622.6L646.0 621.7L647.5 620.7L649.0 624.1L650.5 621.9L652.0 621.5L653.5 622.0L655.0 619.7L656.5 618.9L658.0 618.2L659.5 616.2L661.0 614.6L663.0 614.0L664.0 613.0L665.5 615.6L667.0 617.8L668.5 618.0L670.0 620.4L671.5 620.1L673.0 622.4L674.5 622.2L676.0 622.1L677.5 621.1L679.0 622.7L680.5 622.1L682.0 623.7L683.5 623.2L685.0 622.8L686.5 624.6L688.0 624.7L689.5 623.7L691.0 625.5L692.5 624.5L694.0 624.7L695.5 625.3L697.0 624.7L698.5 625.2L700.0 625.6L701.5 627.2L703.0 627.3L704.5 625.7L706.0 627.4L707.5 626.0L709.0 626.4L710.5 626.9L712.0 626.4L713.5 628.3L715.0 626.4L716.5 625.1L718.0 627.4L719.5 625.8L721.0 626.0L722.5 623.6L724.0 627.2L725.5 627.1L727.0 627.1L728.5 627.2L730.0 627.9L731.5 626.4L733.0 627.3L734.5 625.8L736.0 626.2L737.5 627.4L739.0 626.9L740.5 625.3L742.0 626.9L743.5 626.4L745.0 625.8L746.5 626.9L748.0 626.2L749.5 625.1L751.0 625.5L752.5 628.1L754.0 625.2L755.5 626.7L757.0 627.1L758.5 627.1L760.0 625.4L761.5 626.2L763.0 626.7L764.5 627.2L766.0 625.9L767.5 625.5L769.0 627.4L770.5 627.5L772.0 626.8L773.5 626.0L775.0 626.9L776.5 626.6L778.0 627.2L779.5 625.3L781.0 626.6L782.5 626.3L784.0 625.4L785.5 626.6L787.0 626.4L788.5 626.0L790.0 626.6L791.5 624.9L793.0 626.1L794.5 626.4L796.0 626.0L797.5 626.2L799.0 622.9L800.5 620.0L802.0 617.3L803.5 613.5L804.2 614.4L805.0 613.8L806.5 616.6L808.0 622.3L809.5 623.3L811.0 623.9L812.5 628.1L814.0 626.3L815.5 626.7L817.0 626.7L818.5 627.8L820.0 626.5L821.5 627.3L823.0 625.3L824.5 624.9L826.0 627.4L827.5 627.0L829.0 625.2L830.5 623.4L832.0 621.6L833.0 620.4L835.0 624.1L836.5 625.2L838.0 626.3L839.5 626.8L841.0 627.7L842.5 627.3L844.0 627.7L845.5 626.0L847.0 627.6L848.5 629.2L850.0 626.8L851.5 627.2L853.0 628.1L854.5 628.1L856.0 627.8L857.5 625.6L859.0 627.1L860.5 624.7L862.0 623.6L863.5 623.2L865.0 621.7L866.5 623.6L868.0 627.4L869.5 626.8L871.0 627.7L872.5 626.8L874.0 627.3L875.5 627.1L877.0 627.7L878.5 627.3L880.0 627.7L881.5 628.2L883.0 627.6L884.5 627.2L886.0 627.4L887.5 629.1L889.0 628.8L890.5 629.7L892.0 629.7L893.5 628.5L895.0 629.5L896.5 627.6L898.0 631.0L899.5 630.0L901.0 628.7L902.5 627.9L904.0 629.3L905.5 627.3L907.0 628.2L908.5 629.6L910.0 629.0L911.5 628.5L913.0 629.8L914.5 628.0L916.0 629.2L917.5 628.5L919.0 628.2L920.5 629.3L922.0 628.0L923.5 630.6L925.0 628.4L926.5 630.7L928.0 627.9L929.5 629.4L931.0 627.7L932.5 627.6L934.0 628.8L935.5 629.1L937.0 627.0L938.5 628.7L940.0 626.2L941.5 626.4L942.8 626.3L944.5 626.9L946.0 625.5L947.5 629.2L949.0 628.8L950.5 628.2L952.0 627.8L953.5 627.2L955.0 627.6L956.5 629.3L958.0 628.5L959.5 627.8L961.0 628.4L962.5 630.3L964.0 628.6L965.5 628.3L967.0 630.1L968.5 629.3L970.0 628.9L971.5 628.3L973.0 627.4L974.5 627.8L976.0 628.4L977.5 628.5L979.0 629.0L980.5 629.1L982.0 628.7L983.5 628.3L985.0 626.5L986.5 624.2L988.0 623.9L989.5 621.7L990.6 621.4L992.5 623.2L994.0 624.2L995.5 625.9L997.0 627.8L998.5 628.4L1000.0 628.0L1001.5 629.1L1003.0 628.5L1004.5 627.8L1006.0 628.8L1007.5 630.5L1009.0 628.2L1010.5 629.9L1012.0 630.1L1013.5 630.2L1015.0 628.1L1016.5 630.6L1018.0 628.8L1019.5 628.4L1021.0 628.4L1022.5 629.1L1024.0 628.5L1025.5 628.3L1027.0 629.5L1028.5 627.6L1030.0 627.3L1031.5 628.8L1033.0 628.6L1034.5 628.8L1036.0 626.5L1037.5 627.7L1039.0 626.0L1040.5 625.5L1042.0 621.3L1043.0 622.2L1045.0 623.0L1046.5 623.4L1048.0 625.4L1049.5 627.8L1051.0 626.7L1052.5 626.5L1054.0 628.0L1055.5 628.1L1057.0 628.0L1058.5 626.4L1060.0 627.0L1061.5 627.9L1063.0 626.2L1064.5 626.0L1066.0 627.2L1067.5 627.4L1069.0 623.9L1070.5 619.7L1072.0 615.0L1074.0 609.1L1075.0 611.9L1076.5 618.9L1078.0 622.9L1079.5 624.4L1081.0 625.9L1082.5 625.1L1084.0 626.0L1085.5 625.5L1087.0 628.5L1088.5 626.9L1090.0 625.4L1091.5 625.2L1093.0 625.7L1094.5 624.6L1096.0 625.3L1097.5 625.3L1099.0 626.8L1100.5 625.6L1102.0 625.3L1103.5 624.9L1105.0 625.1L1106.5 626.2L1108.0 626.1L1109.5 627.4L1111.0 625.9L1112.5 627.5L1114.0 626.8L1115.5 626.7L1117.0 624.9L1118.5 625.6L1120.0 627.5L1121.5 628.1L1123.0 627.1L1124.5 627.6L1126.0 626.4L1127.5 626.1L1129.0 625.1L1130.5 625.4L1132.0 623.5L1133.6 622.3L1135.0 622.9L1136.5 625.2L1138.0 626.3L1139.5 626.2L1141.0 629.0L1142.5 628.0L1144.0 628.0L1145.5 629.4L1147.0 629.1L1148.5 628.2L1150.0 628.9L1151.5 627.5L1153.0 628.0L1154.5 626.6L1156.0 629.8L1157.5 627.0L1159.0 629.4L1160.5 628.0L1162.0 627.9L1163.5 628.4L1165.0 628.3L1166.5 627.7L1168.0 627.3L1169.5 624.7L1170.6 624.8L1172.5 624.7L1174.0 627.5L1175.5 628.4L1177.0 628.6L1178.5 629.4L1180.0 629.7L1181.5 630.1L1183.0 630.4L1184.5 629.7L1186.0 629.6L1187.5 631.1L1189.0 628.9L1190.5 630.0L1192.0 632.0L1193.5 628.2L1195.0 630.1L1196.5 631.4L1198.0 629.3L1199.5 633.2L1201.0 628.6L1202.5 632.2L1204.0 632.4L1205.5 631.8L1207.0 630.8L1208.5 631.4L1210.0 630.3L1211.5 631.9L1213.0 630.2L1214.5 631.0L1216.0 632.2L1217.5 630.3L1219.0 631.0L1220.5 631.5L1222.0 630.2L1223.5 632.5L1225.0 631.8L1226.5 630.2L1228.0 631.5L1229.5 630.9L1231.0 631.0L1232.5 631.7L1234.0 631.1L1235.5 632.6L1237.0 631.1L1238.5 632.7L1240.0 631.8L1241.5 632.6L1243.0 631.4L1244.5 631.5L1246.0 630.9L1247.5 632.5L1249.0 632.9L1250.5 633.9L1252.0 633.2L1253.5 632.3L1255.0 631.9L1256.5 632.4L1258.0 632.0L1259.5 633.3L1261.0 632.7L1262.5 630.8L1264.0 630.5L1265.5 631.7L1267.0 629.8L1268.5 628.1L1270.0 628.3L1272.0 626.2L1273.0 626.5L1274.5 627.3L1276.0 627.2L1277.5 630.9L1279.0 630.0L1280.5 631.2L1282.0 631.5L1283.5 633.1L1285.0 632.6L1286.5 632.8L1288.0 631.4L1289.5 632.9L1291.0 631.7L1292.5 633.3L1294.0 633.5L1295.5 633.2L1297.0 635.1L1298.5 633.8L1300.0 633.9L1301.5 633.5L1303.0 633.2L1304.5 634.3L1306.0 634.5L1307.5 632.4L1309.0 634.5L1310.5 634.1L1312.0 634.5L1313.5 634.1L1315.0 632.6L1316.5 632.7L1318.0 635.5L1319.5 634.1L1321.0 632.6L1322.5 634.3L1324.0 633.7L1325.5 632.4L1327.0 632.0L1328.5 632.7L1330.0 634.4L1331.5 634.1L1333.0 634.0L1334.5 634.5L1336.0 634.8L1337.5 632.4L1339.0 634.1L1340.5 633.6L1342.0 633.3L1343.5 633.9L1345.0 634.3L1346.5 634.2L1348.0 633.1L1349.5 634.0L1351.0 636.3L1352.5 633.5L1354.0 633.0L1355.5 634.8L1357.0 635.1L1358.5 634.9L1360.0 633.5L1361.5 635.5L1363.0 633.9L1364.5 633.6L1366.0 634.0L1367.5 634.5L1369.0 635.3L1370.5 635.2L1372.0 634.6L1373.5 635.5L1375.0 634.7L1376.5 635.5L1378.0 633.4L1379.5 633.3L1381.0 635.4L1382.5 633.5L1384.0 634.5L1385.5 634.6L1387.0 634.3L1388.5 634.4L1390.0 636.0L1391.5 632.5L1393.0 635.6L1394.5 636.9L1396.0 634.8L1397.5 634.8L1399.0 635.5L1400.5 636.5L1402.0 633.8L1403.5 635.0L1405.0 634.7L1406.5 635.4L1408.0 635.0L1409.5 635.5L1411.0 634.5L1412.5 635.0L1414.0 634.3L1415.5 634.4L1417.0 634.8L1418.5 634.9L1420.0 633.9L1421.5 636.4L1423.0 634.9L1424.5 633.8L1426.0 636.0L1427.5 634.4L1429.0 635.5L1430.5 635.1L1432.0 635.3L1433.5 635.3L1435.0 634.6L1436.5 635.2L1438.0 637.0L1439.5 633.1L1441.0 635.2L1442.5 635.6L1444.0 634.2L1445.5 634.0L1447.0 637.1L1448.5 634.9L1450.0 637.1L1451.5 635.7L1453.0 635.3L1454.5 635.7L1456.0 635.8L1457.5 636.3L1459.0 635.7L1460.5 635.4L1462.0 635.5L1463.5 636.5L1465.0 636.1L1466.5 634.4L1468.0 634.8L1469.5 635.7L1471.0 634.8L1472.5 635.0L1474.0 634.5L1475.5 635.2L1477.0 635.8L1478.5 636.3L1480.0 635.5L1481.5 637.3L1483.0 635.4L1484.5 638.4L1486.0 636.4L1487.5 636.0L1489.0 635.1L1490.5 633.0L1492.0 635.5L1493.5 635.8L1495.0 637.4L1496.5 634.5L1498.0 637.5L1499.5 635.6L1501.0 636.5L1502.5 633.6L1504.0 636.0L1505.5 635.6L1507.0 636.6L1508.5 636.1L1510.0 635.0L1511.5 636.9L1513.0 636.7L1514.5 636.7L1516.0 637.1L1517.5 637.2L1519.0 636.2L1520.5 635.0L1522.0 635.0L1523.5 637.5L1525.0 637.0L1526.5 636.5L1528.0 636.0L1529.5 636.5L1531.0 636.5L1532.5 636.2L1534.0 635.9L1535.5 638.5L1537.0 636.8L1538.5 636.1L1540.0 635.5L1541.5 636.1L1543.0 637.4L1544.5 637.5L1546.0 636.6L1547.5 636.9L1549.0 636.6L1550.5 635.9L1552.0 638.1L1553.5 637.3L1555.0 639.3L1556.5 636.4L1558.0 637.0L1559.5 637.9L1561.0 636.9L1562.5 635.9L1564.0 636.4L1565.5 637.4L1567.0 637.6L1568.5 637.2L1570.0 638.3L1571.5 638.3L1573.0 637.7L1574.5 637.5L1576.0 637.3L1577.5 638.0L1579.0 638.4L1580.5 637.7L1582.0 638.0L1583.5 637.4L1585.0 636.4L1586.5 636.8L1588.0 638.5L1589.5 638.2L1591.0 639.3L1592.5 637.9L1594.0 638.7L1595.5 639.1L1597.0 638.9L1598.5 637.5L1600.0 637.9L1601.5 638.2L1603.0 637.2L1604.5 638.6L1606.0 639.1L1607.5 637.8L1609.0 640.0L1610.5 638.0L1612.0 638.1L1613.5 638.1L1615.0 637.7L1616.5 638.8L1618.0 638.5L1619.5 640.0L1621.0 639.1L1622.5 639.0L1624.0 638.4L1625.5 637.3L1627.0 638.6L1628.5 637.9L1630.0 639.6L1631.5 638.7L1633.0 640.2L1634.5 639.4L1636.0 639.5L1637.5 638.9L1639.0 638.9L1640.5 639.3L1642.0 639.5L1643.5 638.0L1645.0 639.0L1646.5 640.9L1648.0 638.5L1649.5 638.3L1651.0 637.9L1652.5 637.2L1654.0 639.5L1655.5 638.5L1657.0 638.7L1658.5 640.0L1660.0 640.6L1661.5 637.5L1663.0 639.2L1664.5 638.8L1666.0 638.6L1667.5 638.6L1669.0 638.2L1670.5 639.6L1672.0 638.7L1673.5 638.4L1675.0 639.2L1676.5 638.9L1678.0 638.4L1679.5 638.3L1681.0 639.6L1682.5 638.4L1684.0 637.8L1685.5 637.1L1687.0 637.6L1688.5 636.9L1690.0 637.9L1691.5 638.0L1693.0 635.9L1694.5 637.8L1696.0 638.3L1697.5 637.8L1699.0 636.8L1700.5 638.8L1702.0 637.0L1703.5 636.5L1705.0 636.6L1706.5 637.5L1708.0 638.4L1709.5 638.5L1711.0 637.6L1712.5 636.4L1714.0 636.8L1715.5 636.6L1717.0 637.2" fill="none" stroke="#808080" stroke-width="7.5" stroke-linejoin="round"/><path d="M100.0 467.7L101.5 467.9L103.0 468.0L104.5 467.7L106.0 468.6L107.5 466.6L109.0 467.9L110.5 467.5L112.0 468.1L113.5 468.1L115.0 467.5L116.5 467.7L118.0 468.6L119.5 468.3L121.0 467.7L122.5 469.4L124.0 469.6L125.5 467.4L127.0 468.4L128.5 469.8L130.0 468.8L131.5 468.5L133.0 468.2L134.5 468.1L136.0 468.3L137.5 468.1L139.0 468.9L140.5 468.3L142.0 468.3L143.5 467.8L145.0 468.5L146.5 468.1L148.0 468.5L149.5 469.3L151.0 468.9L152.5 469.0L154.0 469.0L155.5 468.8L157.0 468.7L158.5 468.6L160.0 469.3L161.5 468.2L163.0 469.7L164.5 468.9L166.0 468.5L167.5 468.7L169.0 468.6L170.5 469.1L172.0 468.6L173.5 469.8L175.0 468.7L176.5 467.8L178.0 468.8L179.5 468.0L181.0 469.3L182.5 470.0L184.0 469.8L185.5 468.6L187.0 469.0L188.5 470.5L190.0 469.7L191.5 469.6L193.0 470.2L194.5 471.1L196.0 470.4L197.5 469.8L199.0 470.0L200.5 470.2L202.0 469.5L203.5 469.2L205.0 469.9L206.5 469.4L208.0 469.9L209.5 470.1L211.0 471.5L212.5 469.6L214.0 470.0L215.5 470.1L217.0 470.5L218.5 470.9L220.0 470.0L221.5 469.8L223.0 469.3L224.5 469.7L226.0 470.5L227.5 470.1L229.0 469.4L230.5 469.7L232.0 469.9L233.5 470.1L235.0 469.4L236.5 469.5L238.0 468.5L239.5 468.8L241.0 470.4L242.5 468.0L244.0 469.0L245.5 469.3L247.0 468.8L248.5 468.5L250.0 468.9L251.5 468.8L253.0 468.7L254.5 467.5L256.0 468.5L257.5 468.0L259.0 468.1L260.5 468.5L262.0 468.6L263.5 468.7L265.0 467.8L266.5 468.6L268.0 468.6L269.5 468.5L271.0 468.6L272.5 467.6L274.0 467.5L275.5 468.0L277.0 466.6L278.5 467.5L280.0 467.0L281.5 467.0L283.0 466.1L284.5 466.5L286.0 467.0L287.5 467.4L289.0 467.4L290.5 466.7L292.0 466.5L293.5 466.1L295.0 466.7L296.5 466.3L298.0 466.7L299.5 467.3L301.0 466.1L302.5 465.1L304.0 465.4L305.5 464.9L307.0 464.9L308.5 466.3L310.0 465.5L311.5 464.4L313.0 465.6L314.5 465.8L316.0 464.7L317.5 464.4L319.0 464.5L320.5 464.7L322.0 464.8L323.5 465.0L325.0 464.9L326.5 464.8L328.0 464.8L329.5 464.2L331.0 462.8L332.5 463.5L334.0 463.7L335.5 463.1L337.0 463.8L338.5 462.9L340.0 462.4L341.5 463.7L343.0 463.1L344.5 462.7L346.0 463.0L347.5 463.0L349.0 462.5L350.5 460.7L352.0 461.6L353.5 461.7L355.0 461.3L356.5 461.9L358.0 462.4L359.5 461.3L361.0 460.8L362.5 462.6L364.0 461.0L365.5 460.5L367.0 461.3L368.5 461.3L370.0 460.5L371.5 461.3L373.0 460.5L374.5 460.1L376.0 460.7L377.5 461.0L379.0 460.0L380.5 460.5L382.0 460.2L383.5 461.8L385.0 459.6L386.5 460.8L388.0 459.8L389.5 459.7L391.0 460.1L392.5 460.1L394.0 460.3L395.5 459.6L397.0 458.9L398.5 458.9L400.0 459.5L401.5 459.4L403.0 459.9L404.5 459.2L406.0 459.6L407.5 459.8L409.0 459.0L410.5 458.0L412.0 458.1L413.5 458.0L415.0 459.8L416.5 458.3L418.0 459.5L419.5 459.1L421.0 459.7L422.5 459.3L424.0 458.6L425.5 458.5L427.0 458.6L428.5 458.7L430.0 458.2L431.5 458.5L433.0 459.5L434.5 457.4L436.0 458.6L437.5 457.9L439.0 458.6L440.5 459.0L442.0 458.5L443.5 459.1L445.0 457.8L446.5 459.5L448.0 458.5L449.5 459.4L451.0 459.2L452.5 457.7L454.0 458.8L455.5 459.5L457.0 460.4L458.5 459.8L460.0 459.8L461.5 458.9L463.0 460.7L464.5 461.1L466.0 460.1L467.5 460.0L469.0 459.3L470.5 460.9L472.0 462.0L473.5 460.9L475.0 461.4L476.5 461.0L478.0 460.2L479.5 461.6L481.0 460.2L482.5 460.9L484.0 461.2L485.5 461.7L487.0 461.5L488.5 461.5L490.0 460.9L491.5 460.7L493.0 461.5L494.5 461.2L496.0 460.9L497.5 461.0L499.0 461.5L500.5 460.8L502.0 461.2L503.5 461.0L505.0 462.2L506.5 462.3L508.0 463.3L509.5 461.2L511.0 461.6L512.5 462.5L514.0 461.7L515.5 461.5L517.0 462.5L518.5 461.0L520.0 460.1L521.5 459.5L523.0 459.8L524.5 458.9L526.0 456.6L527.5 455.0L529.0 453.2L530.5 449.2L532.0 442.4L533.5 434.4L535.0 422.5L536.5 406.4L538.0 391.3L539.5 379.0L540.7 374.7L542.5 382.0L544.0 398.1L545.5 414.7L547.0 429.1L548.5 437.6L550.0 448.2L551.5 451.3L553.0 456.2L554.5 458.8L556.0 460.4L557.5 461.1L559.0 461.3L560.5 463.0L562.0 462.7L563.5 462.0L565.0 465.5L566.5 464.4L568.0 465.1L569.5 463.5L571.0 464.8L572.5 464.8L574.0 464.5L575.5 463.2L577.0 462.1L578.5 462.1L580.0 460.0L581.5 459.1L583.0 458.4L584.5 455.1L586.0 451.6L587.5 445.9L589.0 439.2L590.5 428.7L592.0 416.5L593.5 407.0L595.1 401.0L596.5 404.8L598.0 415.1L599.5 425.0L601.0 435.7L602.5 443.0L604.0 449.6L605.5 454.3L607.0 455.3L608.5 457.4L610.0 457.4L611.5 457.5L613.0 457.3L614.5 458.3L616.0 457.8L617.5 455.0L619.0 451.7L620.5 448.6L622.0 441.8L623.5 433.3L625.0 419.8L626.5 402.1L628.0 380.8L629.5 357.7L631.0 341.7L631.9 338.0L634.0 354.4L635.5 376.0L637.0 399.2L638.5 417.7L640.0 432.8L641.5 443.4L643.0 449.4L644.5 454.6L646.0 457.9L647.5 461.3L649.0 463.7L650.5 464.6L652.0 465.0L653.5 467.1L655.0 466.2L656.5 468.7L658.0 468.0L659.5 467.3L661.0 471.0L662.5 470.8L664.0 469.6L665.5 470.7L667.0 470.8L668.5 471.3L670.0 470.6L671.5 471.4L673.0 472.3L674.5 472.4L676.0 473.2L677.5 472.7L679.0 474.3L680.5 472.6L682.0 473.4L683.5 472.3L685.0 472.9L686.5 474.6L688.0 473.4L689.5 474.4L691.0 474.2L692.5 473.8L694.0 474.4L695.5 474.4L697.0 474.6L698.5 475.4L700.0 475.5L701.5 474.8L703.0 474.7L704.5 475.4L706.0 475.2L707.5 475.9L709.0 476.9L710.5 475.9L712.0 475.4L713.5 475.3L715.0 474.9L716.5 474.9L718.0 474.9L719.5 475.3L721.0 475.3L722.5 476.0L724.0 475.3L725.5 475.5L727.0 474.9L728.5 476.6L730.0 475.9L731.5 476.7L733.0 476.1L734.5 476.6L736.0 475.6L737.5 476.1L739.0 477.4L740.5 475.0L742.0 476.5L743.5 476.8L745.0 476.0L746.5 476.2L748.0 476.6L749.5 475.4L751.0 476.1L752.5 475.3L754.0 475.4L755.5 475.5L757.0 475.8L758.5 476.0L760.0 476.2L761.5 475.0L763.0 477.1L764.5 476.6L766.0 476.4L767.5 475.7L769.0 475.9L770.5 476.3L772.0 476.2L773.5 474.9L775.0 476.4L776.5 477.8L778.0 474.8L779.5 476.6L781.0 476.2L782.5 475.9L784.0 476.8L785.5 475.3L787.0 476.1L788.5 476.9L790.0 475.9L791.5 475.8L793.0 476.1L794.5 475.8L796.0 477.0L797.5 475.5L799.0 476.6L800.5 475.3L802.0 476.5L803.5 476.0L805.0 474.5L806.5 476.0L808.0 475.4L809.5 475.8L811.0 477.0L812.5 475.3L814.0 475.4L815.5 476.9L817.0 476.1L818.5 476.9L820.0 476.2L821.5 475.4L823.0 475.9L824.5 476.6L826.0 476.4L827.5 475.8L829.0 475.8L830.5 475.6L832.0 475.3L833.5 476.8L835.0 475.5L836.5 474.7L838.0 474.9L839.5 475.5L841.0 475.2L842.5 474.5L844.0 473.8L845.5 473.7L847.0 472.0L848.5 471.2L850.0 471.2L851.5 468.7L853.0 467.0L854.5 464.7L856.0 461.3L857.5 457.9L859.0 457.0L860.3 455.4L862.0 456.0L863.5 459.2L865.0 462.1L866.5 464.3L868.0 467.5L869.5 469.5L871.0 470.0L872.5 472.4L874.0 473.2L875.5 473.8L877.0 473.5L878.5 474.7L880.0 475.1L881.5 475.4L883.0 474.8L884.5 476.1L886.0 475.1L887.5 475.8L889.0 476.8L890.5 475.7L892.0 475.8L893.5 476.9L895.0 476.0L896.5 476.2L898.0 476.5L899.5 477.1L901.0 475.1L902.5 476.0L904.0 475.9L905.5 475.9L907.0 476.0L908.5 476.1L910.0 476.8L911.5 476.1L913.0 476.7L914.5 476.9L916.0 476.2L917.5 476.7L919.0 477.7L920.5 476.9L922.0 476.3L923.5 476.6L925.0 476.1L926.5 476.9L928.0 477.2L929.5 476.2L931.0 476.6L932.5 477.4L934.0 476.4L935.5 476.8L937.0 476.1L938.5 476.2L940.0 476.4L941.5 478.0L943.0 476.5L944.5 476.4L946.0 476.4L947.5 476.6L949.0 477.1L950.5 476.8L952.0 478.0L953.5 476.9L955.0 477.6L956.5 476.9L958.0 477.1L959.5 475.8L961.0 476.6L962.5 476.7L964.0 476.6L965.5 475.4L967.0 477.2L968.5 476.5L970.0 476.4L971.5 476.5L973.0 476.5L974.5 476.9L976.0 475.9L977.5 476.1L979.0 476.8L980.5 476.7L982.0 476.4L983.5 476.3L985.0 476.1L986.5 476.5L988.0 477.3L989.5 475.9L991.0 477.4L992.5 477.0L994.0 476.2L995.5 476.9L997.0 475.5L998.5 475.4L1000.0 475.6L1001.5 476.1L1003.0 476.1L1004.5 475.9L1006.0 476.3L1007.5 474.9L1009.0 476.4L1010.5 475.2L1012.0 475.5L1013.5 475.6L1015.0 475.0L1016.5 474.8L1018.0 474.8L1019.5 475.3L1021.0 475.4L1022.5 475.2L1024.0 473.9L1025.5 473.7L1027.0 473.1L1028.5 473.3L1030.0 470.9L1031.5 471.7L1033.0 468.8L1034.5 466.1L1036.0 463.2L1037.5 458.9L1039.0 452.6L1040.5 446.5L1042.0 439.9L1044.0 436.7L1045.0 437.8L1046.5 441.6L1048.0 448.9L1049.5 454.6L1051.0 460.0L1052.5 463.8L1054.0 467.3L1055.5 470.3L1057.0 470.6L1058.5 472.9L1060.0 473.5L1061.5 474.0L1063.0 472.9L1064.5 474.5L1066.0 475.3L1067.5 474.7L1069.0 475.4L1070.5 474.0L1072.0 476.0L1073.5 475.3L1075.0 476.3L1076.5 474.8L1078.0 476.4L1079.5 475.9L1081.0 476.6L1082.5 475.6L1084.0 475.8L1085.5 477.6L1087.0 475.8L1088.5 475.9L1090.0 476.2L1091.5 475.7L1093.0 477.1L1094.5 477.4L1096.0 476.0L1097.5 475.4L1099.0 477.2L1100.5 477.1L1102.0 477.0L1103.5 477.2L1105.0 476.0L1106.5 476.4L1108.0 475.7L1109.5 475.7L1111.0 477.1L1112.5 476.1L1114.0 477.9L1115.5 476.6L1117.0 476.1L1118.5 477.0L1120.0 477.6L1121.5 476.8L1123.0 475.8L1124.5 476.7L1126.0 477.3L1127.5 476.1L1129.0 476.0L1130.5 477.0L1132.0 476.4L1133.5 475.7L1135.0 476.1L1136.5 475.8L1138.0 476.4L1139.5 476.2L1141.0 476.7L1142.5 476.4L1144.0 474.9L1145.5 476.0L1147.0 476.1L1148.5 475.7L1150.0 475.8L1151.5 474.5L1153.0 473.9L1154.5 474.6L1156.0 472.7L1157.5 471.1L1159.0 471.6L1160.5 468.7L1162.0 466.5L1163.5 462.7L1165.0 459.0L1166.5 455.0L1168.0 451.9L1170.0 450.2L1171.0 449.2L1172.5 453.7L1174.0 456.4L1175.5 460.5L1177.0 465.1L1178.5 467.6L1180.0 469.0L1181.5 472.7L1183.0 472.3L1184.5 473.8L1186.0 474.4L1187.5 475.6L1189.0 474.8L1190.5 476.0L1192.0 475.1L1193.5 476.4L1195.0 475.4L1196.5 475.8L1198.0 477.3L1199.5 476.4L1201.0 476.4L1202.5 477.7L1204.0 476.7L1205.5 476.0L1207.0 477.0L1208.5 475.9L1210.0 477.3L1211.5 477.4L1213.0 476.3L1214.5 476.3L1216.0 476.8L1217.5 476.7L1219.0 476.2L1220.5 477.1L1222.0 475.5L1223.5 476.5L1225.0 476.5L1226.5 476.6L1228.0 476.9L1229.5 475.9L1231.0 476.9L1232.5 476.4L1234.0 475.9L1235.5 475.3L1237.0 475.0L1238.5 475.5L1240.0 474.1L1241.5 474.2L1242.8 474.6L1244.5 474.8L1246.0 475.6L1247.5 474.9L1249.0 474.8L1250.5 476.3L1252.0 476.0L1253.5 476.5L1255.0 475.7L1256.5 476.2L1258.0 475.7L1259.5 475.2L1261.0 474.5L1262.5 473.4L1264.0 471.9L1265.5 469.8L1267.0 467.4L1268.5 462.8L1270.0 460.1L1271.5 455.4L1273.0 454.6L1274.5 455.4L1276.0 458.8L1277.5 464.2L1279.0 466.4L1280.5 468.6L1282.0 471.0L1283.5 472.5L1285.0 474.7L1286.5 473.8L1288.0 474.1L1289.5 472.4L1291.0 472.2L1292.5 470.9L1294.0 469.8L1295.5 466.9L1296.6 467.4L1298.5 468.5L1300.0 469.6L1301.5 472.1L1303.0 473.5L1304.5 473.4L1306.0 476.0L1307.5 476.4L1309.0 476.2L1310.5 475.9L1312.0 477.8L1313.5 477.2L1315.0 477.7L1316.5 478.1L1318.0 477.0L1319.5 477.9L1321.0 477.3L1322.5 477.5L1324.0 477.5L1325.5 477.6L1327.0 478.4L1328.5 477.8L1330.0 477.7L1331.5 477.7L1333.0 478.1L1334.5 477.4L1336.0 477.6L1337.5 478.0L1339.0 477.7L1340.5 478.0L1342.0 477.7L1343.5 479.3L1345.0 479.0L1346.5 478.5L1348.0 478.2L1349.5 479.6L1351.0 478.5L1352.5 478.3L1354.0 478.5L1355.5 478.5L1357.0 479.2L1358.5 478.4L1360.0 479.7L1361.5 477.9L1363.0 478.9L1364.5 477.9L1366.0 479.6L1367.5 478.4L1369.0 478.6L1370.5 479.2L1372.0 479.4L1373.5 478.0L1375.0 478.5L1376.5 477.9L1378.0 478.8L1379.5 478.7L1381.0 478.6L1382.5 478.4L1384.0 478.6L1385.5 478.4L1387.0 479.2L1388.5 479.8L1390.0 477.8L1391.5 478.9L1393.0 478.8L1394.5 479.3L1396.0 478.5L1397.5 479.0L1399.0 478.5L1400.5 479.5L1402.0 479.2L1403.5 479.1L1405.0 479.4L1406.5 479.1L1408.0 478.3L1409.5 479.6L1411.0 479.5L1412.5 479.2L1414.0 479.9L1415.5 480.1L1417.0 478.7L1418.5 478.9L1420.0 480.3L1421.5 480.3L1423.0 479.0L1424.5 478.8L1426.0 479.1L1427.5 479.2L1429.0 478.6L1430.5 479.6L1432.0 478.8L1433.5 478.8L1435.0 480.1L1436.5 479.2L1438.0 479.5L1439.5 479.9L1441.0 480.0L1442.5 479.3L1444.0 479.5L1445.5 478.9L1447.0 480.3L1448.5 479.4L1450.0 478.0L1451.5 478.2L1453.0 477.9L1454.5 476.9L1456.0 476.9L1457.8 476.1L1459.0 475.2L1460.5 476.3L1462.0 476.5L1463.5 478.3L1465.0 478.8L1466.5 480.8L1468.0 479.6L1469.5 478.4L1471.0 479.4L1472.5 480.0L1474.0 479.3L1475.5 479.6L1477.0 479.9L1478.5 480.4L1480.0 480.1L1481.5 479.7L1483.0 480.8L1484.5 480.0L1486.0 480.1L1487.5 479.6L1489.0 480.0L1490.5 480.9L1492.0 479.5L1493.5 480.5L1495.0 481.0L1496.5 480.4L1498.0 480.8L1499.5 480.0L1501.0 481.5L1502.5 481.4L1504.0 480.9L1505.5 479.7L1507.0 480.1L1508.5 481.4L1510.0 481.8L1511.5 481.0L1513.0 481.6L1514.5 480.5L1516.0 480.8L1517.5 480.9L1519.0 481.2L1520.5 480.1L1522.0 481.6L1523.5 481.8L1525.0 480.4L1526.5 480.3L1528.0 481.3L1529.5 480.7L1531.0 479.7L1532.5 481.7L1534.0 481.3L1535.5 480.9L1537.0 482.5L1538.5 481.3L1540.0 480.8L1541.5 481.4L1543.0 480.7L1544.5 480.9L1546.0 481.6L1547.5 481.1L1549.0 481.1L1550.5 482.4L1552.0 482.0L1553.5 482.0L1555.0 481.8L1556.5 481.8L1558.0 482.4L1559.5 481.6L1561.0 482.7L1562.5 481.0L1564.0 481.5L1565.5 480.8L1567.0 481.5L1568.5 482.0L1570.0 482.6L1571.5 481.4L1573.0 481.8L1574.5 481.6L1576.0 481.4L1577.5 481.1L1579.0 481.9L1580.5 480.8L1582.0 482.0L1583.5 481.9L1585.0 481.6L1586.5 481.4L1588.0 481.2L1589.5 483.1L1591.0 481.2L1592.5 483.0L1594.0 482.4L1595.5 481.9L1597.0 481.4L1598.5 482.8L1600.0 483.2L1601.5 481.6L1603.0 482.0L1604.5 482.9L1606.0 482.5L1607.5 483.5L1609.0 481.9L1610.5 482.6L1612.0 481.6L1613.5 483.6L1615.0 481.9L1616.5 481.1L1618.0 482.3L1619.5 482.3L1621.0 483.6L1622.5 482.3L1624.0 482.5L1625.5 482.9L1627.0 483.5L1628.5 482.5L1630.0 483.2L1631.5 482.9L1633.0 482.4L1634.5 482.7L1636.0 482.6L1637.5 482.1L1639.0 483.4L1640.5 481.9L1642.0 483.4L1643.5 483.3L1645.0 482.7L1646.5 482.3L1648.0 482.6L1649.5 483.1L1651.0 483.3L1652.5 483.0L1654.0 483.5L1655.5 482.5L1657.0 483.0L1658.5 482.0L1660.0 483.4L1661.5 483.0L1663.0 482.7L1664.5 483.7L1666.0 483.4L1667.5 481.3L1669.0 483.1L1670.5 482.2L1672.0 483.7L1673.5 484.6L1675.0 482.8L1676.5 483.2L1678.0 483.0L1679.5 483.3L1681.0 483.4L1682.5 483.7L1684.0 482.2L1685.5 483.6L1687.0 482.0L1688.5 482.6L1690.0 483.0L1691.5 482.6L1693.0 481.5L1694.5 481.5L1696.0 481.5L1697.5 481.6L1699.0 482.2L1700.5 480.6L1702.0 481.5L1703.5 481.4L1705.0 481.1L1706.5 480.7L1708.0 481.0L1709.5 480.0L1711.0 479.8L1712.5 479.3L1714.0 479.7L1715.5 477.1L1717.0 478.8" fill="none" stroke="#5FB300" stroke-width="7.5" stroke-linejoin="round"/><path d="M100.0 298.0L101.5 298.1L103.0 297.9L104.5 297.6L106.0 297.8L107.5 297.6L109.0 298.0L110.5 298.4L112.0 297.8L113.5 297.7L115.0 298.1L116.5 298.0L118.0 298.0L119.5 297.6L121.0 297.9L122.5 298.1L124.0 297.4L125.5 297.7L127.0 297.2L128.5 297.4L130.0 297.2L131.5 297.8L133.0 297.4L134.5 298.0L136.0 297.9L137.5 297.8L139.0 297.0L140.5 297.7L142.0 297.8L143.5 297.9L145.0 297.3L146.5 297.7L148.0 297.5L149.5 297.5L151.0 298.2L152.5 297.5L154.0 297.8L155.5 298.1L157.0 297.6L158.5 297.8L160.0 297.8L161.5 297.8L163.0 297.4L164.5 297.8L166.0 298.3L167.5 297.2L169.0 298.1L170.5 297.8L172.0 297.5L173.5 298.5L175.0 298.0L176.5 297.3L178.0 297.8L179.5 297.9L181.0 297.7L182.5 298.0L184.0 297.7L185.5 298.0L187.0 298.2L188.5 297.5L190.0 297.8L191.5 297.5L193.0 297.8L194.5 297.3L196.0 297.5L197.5 297.6L199.0 298.0L200.5 298.1L202.0 297.2L203.5 297.4L205.0 297.9L206.5 297.0L208.0 297.5L209.5 297.6L211.0 298.1L212.5 297.9L214.0 297.5L215.5 297.5L217.0 297.5L218.5 298.2L220.0 297.5L221.5 297.5L223.0 297.7L224.5 297.6L226.0 297.5L227.5 297.2L229.0 297.6L230.5 297.4L232.0 298.0L233.5 297.8L235.0 297.6L236.5 297.8L238.0 297.5L239.5 297.9L241.0 297.6L242.5 297.8L244.0 297.1L245.5 297.7L247.0 297.0L248.5 296.8L250.0 297.4L251.5 297.2L253.0 297.6L254.5 298.3L256.0 297.2L257.5 297.3L259.0 297.6L260.5 297.7L262.0 297.4L263.5 297.4L265.0 297.7L266.5 297.7L268.0 297.1L269.5 297.5L271.0 297.5L272.5 297.1L274.0 297.6L275.5 297.2L277.0 297.8L278.5 297.5L280.0 297.5L281.5 297.2L283.0 297.4L284.5 296.7L286.0 297.0L287.5 297.5L289.0 296.7L290.5 297.7L292.0 296.8L293.5 297.7L295.0 297.1L296.5 297.7L298.0 297.4L299.5 296.8L301.0 297.8L302.5 297.9L304.0 297.3L305.5 297.3L307.0 297.3L308.5 297.0L310.0 297.7L311.5 297.2L313.0 297.3L314.5 297.1L316.0 297.1L317.5 296.9L319.0 297.8L320.5 297.3L322.0 297.6L323.5 297.3L325.0 297.1L326.5 297.2L328.0 297.1L329.5 297.3L331.0 297.1L332.5 297.2L334.0 296.8L335.5 297.0L337.0 297.8L338.5 297.0L340.0 296.9L341.5 297.4L343.0 297.7L344.5 296.7L346.0 297.2L347.5 297.0L349.0 296.6L350.5 297.5L352.0 297.2L353.5 297.2L355.0 296.9L356.5 297.3L358.0 297.0L359.5 297.1L361.0 296.8L362.5 296.7L364.0 297.6L365.5 297.0L367.0 297.2L368.5 297.1L370.0 297.0L371.5 296.9L373.0 297.3L374.5 297.0L376.0 297.1L377.5 297.1L379.0 297.5L380.5 297.3L382.0 297.2L383.5 296.9L385.0 296.6L386.5 297.4L388.0 297.4L389.5 297.0L391.0 297.2L392.5 297.3L394.0 297.3L395.5 297.3L397.0 296.8L398.5 297.5L400.0 296.6L401.5 297.3L403.0 297.1L404.5 297.3L406.0 297.6L407.5 297.5L409.0 296.5L410.5 296.3L412.0 297.2L413.5 296.6L415.0 296.9L416.5 297.2L418.0 296.3L419.5 296.1L421.0 297.0L422.5 296.9L424.0 296.8L425.5 296.9L427.0 296.5L428.5 296.3L430.0 296.8L431.5 296.5L433.0 296.2L434.5 297.0L436.0 296.7L437.5 296.9L439.0 296.4L440.5 296.5L442.0 296.4L443.5 296.4L445.0 296.8L446.5 296.4L448.0 296.8L449.5 296.8L451.0 297.3L452.5 296.1L454.0 296.9L455.5 296.5L457.0 296.5L458.5 296.0L460.0 296.4L461.5 296.8L463.0 296.4L464.5 296.5L466.0 296.3L467.5 296.8L469.0 296.4L470.5 295.6L472.0 296.1L473.5 295.6L475.0 295.1L476.5 296.0L478.0 296.7L479.5 296.2L481.0 295.7L482.5 295.8L484.0 296.5L485.5 296.1L487.0 296.0L488.5 295.9L490.0 295.9L491.5 296.1L493.0 296.0L494.5 295.8L496.0 295.3L497.5 295.7L499.0 295.2L500.5 295.8L502.0 294.8L503.5 295.1L505.0 295.0L506.5 294.4L508.0 295.3L509.5 295.0L511.0 294.1L512.5 294.3L514.0 293.8L515.5 292.4L517.0 293.0L518.5 292.4L520.0 291.8L521.5 290.6L523.0 290.0L524.5 288.8L526.0 287.6L527.5 285.0L529.0 281.4L530.5 276.8L532.0 268.6L533.5 258.1L535.0 243.5L536.5 227.8L538.0 210.3L539.5 198.2L540.3 196.2L541.0 197.5L542.5 208.9L544.0 225.8L545.5 242.8L547.0 257.1L548.5 268.3L550.0 275.6L551.5 280.5L553.0 283.7L554.5 286.0L556.0 288.4L557.5 289.1L559.0 289.8L560.5 290.2L562.0 290.4L563.5 291.1L565.0 291.7L566.5 291.3L568.0 291.4L569.5 291.4L571.0 291.3L572.5 290.5L574.0 290.6L575.5 289.9L577.0 289.8L578.5 288.2L580.0 287.4L581.5 285.7L583.0 282.1L584.5 277.5L586.0 271.3L587.5 262.2L589.0 250.2L590.5 237.2L592.0 225.2L593.8 217.4L595.0 220.5L596.5 230.9L598.0 244.7L599.5 256.4L601.0 266.2L602.5 274.2L604.0 278.2L605.5 282.0L607.0 284.0L608.5 284.5L610.0 285.0L611.5 285.5L613.0 284.2L614.5 283.1L616.0 281.3L617.5 279.5L619.0 276.4L620.5 270.6L622.0 261.5L623.5 249.2L625.0 232.0L626.5 209.9L628.0 183.8L629.5 159.8L631.3 146.6L632.5 152.7L634.0 173.9L635.5 200.3L637.0 224.6L638.5 244.4L640.0 259.4L641.5 269.1L643.0 275.8L644.5 279.8L646.0 283.7L647.5 285.2L649.0 287.1L650.5 289.3L652.0 290.3L653.5 290.9L655.0 291.1L656.5 292.1L658.0 292.6L659.5 293.5L661.0 294.4L662.5 294.1L664.0 294.0L665.5 294.1L667.0 294.8L668.5 294.9L670.0 294.8L671.5 295.4L673.0 295.1L674.5 296.0L676.0 296.1L677.5 296.3L679.0 295.8L680.5 296.3L682.0 296.1L683.5 296.1L685.0 296.2L686.5 295.9L688.0 296.0L689.5 296.8L691.0 296.5L692.5 296.7L694.0 297.0L695.5 296.1L697.0 296.5L698.5 296.9L700.0 297.0L701.5 296.8L703.0 297.3L704.5 297.0L706.0 296.6L707.5 296.7L709.0 297.3L710.5 297.2L712.0 296.4L713.5 297.6L715.0 297.3L716.5 297.6L718.0 297.0L719.5 297.0L721.0 296.8L722.5 298.1L724.0 297.1L725.5 297.8L727.0 297.0L728.5 297.3L730.0 296.7L731.5 297.1L733.0 297.6L734.5 296.8L736.0 297.6L737.5 297.4L739.0 296.9L740.5 297.1L742.0 297.1L743.5 297.3L745.0 297.1L746.5 297.0L748.0 297.2L749.5 297.0L751.0 296.9L752.5 297.3L754.0 297.6L755.5 296.8L757.0 297.3L758.5 297.1L760.0 297.0L761.5 297.7L763.0 297.2L764.5 297.9L766.0 297.1L767.5 297.5L769.0 297.3L770.5 297.1L772.0 297.6L773.5 297.3L775.0 297.6L776.5 297.3L778.0 297.0L779.5 297.3L781.0 297.4L782.5 297.7L784.0 297.0L785.5 297.3L787.0 296.7L788.5 297.6L790.0 297.0L791.5 296.7L793.0 297.3L794.5 297.7L796.0 296.8L797.5 296.9L799.0 297.0L800.5 296.9L802.0 297.4L803.5 297.0L805.0 297.0L806.5 297.5L808.0 297.0L809.5 297.4L811.0 296.9L812.5 296.8L814.0 296.5L815.5 297.8L817.0 297.0L818.5 297.2L820.0 297.1L821.5 297.1L823.0 297.0L824.5 297.6L826.0 296.5L827.5 296.3L829.0 296.4L830.5 296.2L832.0 296.9L833.5 296.8L835.0 296.1L836.5 295.8L838.0 296.0L839.5 296.4L841.0 294.7L842.5 295.5L844.0 294.6L845.5 294.7L847.0 293.2L848.5 292.3L850.0 290.4L851.5 288.6L853.0 286.9L854.5 283.7L856.0 280.2L857.5 277.1L859.0 275.1L859.7 275.4L860.5 275.8L862.0 277.6L863.5 280.5L865.0 283.3L866.5 286.6L868.0 289.0L869.5 291.4L871.0 293.1L872.5 293.5L874.0 294.1L875.5 294.9L877.0 295.2L878.5 295.4L880.0 295.9L881.5 295.7L883.0 296.5L884.5 296.4L886.0 296.6L887.5 296.5L889.0 296.4L890.5 296.4L892.0 296.7L893.5 296.7L895.0 297.0L896.5 296.9L898.0 296.5L899.5 297.0L901.0 296.6L902.5 296.8L904.0 297.0L905.5 296.4L907.0 297.2L908.5 297.2L910.0 297.1L911.5 297.0L913.0 297.0L914.5 296.8L916.0 297.1L917.5 297.0L919.0 297.2L920.5 296.8L922.0 297.3L923.5 297.3L925.0 297.2L926.5 297.1L928.0 297.4L929.5 296.7L931.0 297.4L932.5 297.3L934.0 297.3L935.5 297.4L937.0 297.0L938.5 297.2L940.0 297.5L941.5 297.4L943.0 297.3L944.5 296.7L946.0 297.4L947.5 297.6L949.0 297.6L950.5 297.3L952.0 296.7L953.5 297.6L955.0 297.2L956.5 296.3L958.0 297.3L959.5 296.7L961.0 296.7L962.5 297.0L964.0 297.6L965.5 297.0L967.0 297.3L968.5 297.8L970.0 297.7L971.5 297.1L973.0 297.0L974.5 296.7L976.0 296.9L977.5 297.2L979.0 297.2L980.5 297.1L982.0 297.4L983.5 296.8L985.0 297.0L986.5 297.2L988.0 297.2L989.5 297.3L991.0 297.1L992.5 296.8L994.0 297.0L995.5 296.5L997.0 296.2L998.5 296.9L1000.0 296.7L1001.5 296.8L1003.0 296.0L1004.5 296.4L1006.0 296.2L1007.5 296.1L1009.0 295.5L1010.5 296.1L1012.0 296.4L1013.5 296.1L1015.0 295.6L1016.5 295.6L1018.0 295.6L1019.5 294.2L1021.0 294.8L1022.5 294.6L1024.0 294.2L1025.5 294.0L1027.0 293.0L1028.5 291.6L1030.0 290.0L1031.5 287.9L1033.0 284.2L1034.5 279.9L1036.0 274.3L1037.5 267.5L1039.0 258.8L1040.5 251.7L1042.3 248.1L1043.5 250.2L1045.0 255.7L1046.5 264.1L1048.0 270.9L1049.5 277.6L1051.0 282.7L1052.5 286.7L1054.0 289.4L1055.5 290.3L1057.0 291.8L1058.5 293.2L1060.0 293.5L1061.5 293.7L1063.0 295.0L1064.5 295.1L1066.0 295.4L1067.5 295.3L1069.0 296.0L1070.5 295.7L1072.0 296.3L1073.5 295.7L1075.0 295.8L1076.5 296.3L1078.0 296.1L1079.5 296.6L1081.0 296.5L1082.5 296.2L1084.0 296.5L1085.5 296.4L1087.0 296.9L1088.5 296.4L1090.0 296.5L1091.5 297.1L1093.0 297.5L1094.5 297.4L1096.0 296.8L1097.5 296.8L1099.0 297.3L1100.5 296.7L1102.0 296.4L1103.5 296.8L1105.0 297.0L1106.5 296.5L1108.0 296.2L1109.5 296.3L1111.0 297.0L1112.5 296.5L1114.0 296.7L1115.5 296.9L1117.0 297.0L1118.5 296.6L1120.0 296.9L1121.5 296.4L1123.0 296.6L1124.5 296.3L1126.0 297.1L1127.5 296.6L1129.0 296.3L1130.5 296.4L1132.0 296.4L1133.5 296.7L1135.0 295.8L1136.5 296.0L1138.0 296.1L1139.5 297.1L1141.0 296.4L1142.5 295.9L1144.0 296.1L1145.5 296.4L1147.0 295.4L1148.5 295.1L1150.0 295.4L1151.5 294.8L1153.0 294.3L1154.5 293.3L1156.0 293.2L1157.5 291.8L1159.0 289.6L1160.5 287.2L1162.0 283.1L1163.5 280.1L1165.0 275.5L1166.5 271.4L1168.0 268.5L1169.1 267.4L1171.0 269.0L1172.5 273.6L1174.0 277.6L1175.5 281.9L1177.0 285.3L1178.5 288.2L1180.0 289.6L1181.5 292.3L1183.0 293.1L1184.5 294.2L1186.0 295.0L1187.5 294.7L1189.0 294.4L1190.5 295.0L1192.0 295.1L1193.5 295.5L1195.0 295.8L1196.5 295.2L1198.0 296.1L1199.5 295.6L1201.0 296.3L1202.5 296.2L1204.0 296.2L1205.5 296.3L1207.0 296.2L1208.5 296.2L1210.0 295.8L1211.5 296.4L1213.0 297.1L1214.5 297.1L1216.0 296.9L1217.5 296.6L1219.0 296.1L1220.5 296.9L1222.0 296.3L1223.5 296.2L1225.0 296.1L1226.5 296.1L1228.0 295.8L1229.5 295.7L1231.0 295.1L1232.5 295.0L1234.0 295.4L1235.5 293.9L1237.0 293.0L1238.5 292.3L1240.0 291.6L1241.6 290.6L1243.0 291.1L1244.5 292.1L1246.0 292.7L1247.5 293.4L1249.0 294.4L1250.5 294.0L1252.0 294.5L1253.5 294.3L1255.0 295.0L1256.5 293.5L1258.0 293.6L1259.5 293.1L1261.0 292.5L1262.5 291.1L1264.0 289.3L1265.5 285.3L1267.0 282.1L1268.5 276.8L1270.0 271.6L1271.5 268.4L1272.4 267.2L1274.5 270.2L1276.0 275.6L1277.5 280.1L1279.0 284.5L1280.5 288.0L1282.0 290.1L1283.5 291.8L1285.0 291.9L1286.5 291.6L1288.0 291.5L1289.5 290.4L1291.0 288.8L1292.5 287.2L1294.0 284.5L1295.5 282.5L1296.2 283.2L1297.0 283.3L1298.5 285.4L1300.0 287.9L1301.5 290.5L1303.0 292.2L1304.5 294.0L1306.0 294.6L1307.5 295.2L1309.0 295.6L1310.5 295.2L1312.0 295.9L1313.5 296.0L1315.0 296.3L1316.5 295.8L1318.0 297.0L1319.5 296.5L1321.0 296.1L1322.5 296.0L1324.0 296.5L1325.5 296.6L1327.0 296.5L1328.5 296.8L1330.0 296.5L1331.5 297.0L1333.0 296.6L1334.5 296.8L1336.0 297.2L1337.5 297.8L1339.0 296.5L1340.5 296.7L1342.0 296.6L1343.5 297.2L1345.0 296.5L1346.5 296.8L1348.0 297.0L1349.5 296.6L1351.0 296.6L1352.5 296.8L1354.0 296.3L1355.5 296.5L1357.0 296.9L1358.5 297.1L1360.0 297.0L1361.5 296.4L1363.0 296.9L1364.5 297.3L1366.0 297.2L1367.5 297.0L1369.0 296.7L1370.5 297.3L1372.0 296.8L1373.5 296.6L1375.0 296.8L1376.5 297.6L1378.0 297.1L1379.5 297.5L1381.0 296.9L1382.5 297.4L1384.0 296.9L1385.5 297.0L1387.0 297.9L1388.5 297.3L1390.0 296.9L1391.5 297.0L1393.0 297.2L1394.5 297.5L1396.0 296.9L1397.5 296.5L1399.0 297.0L1400.5 297.1L1402.0 297.1L1403.5 297.5L1405.0 297.2L1406.5 297.4L1408.0 296.7L1409.5 297.4L1411.0 297.8L1412.5 297.4L1414.0 297.2L1415.5 297.1L1417.0 297.7L1418.5 296.8L1420.0 297.0L1421.5 297.2L1423.0 297.3L1424.5 296.9L1426.0 297.2L1427.5 297.0L1429.0 297.1L1430.5 297.0L1432.0 296.7L1433.5 297.0L1435.0 297.3L1436.5 296.7L1438.0 296.9L1439.5 297.2L1441.0 296.6L1442.5 297.0L1444.0 296.5L1445.5 297.2L1447.0 297.4L1448.5 297.1L1450.0 296.0L1451.5 295.9L1453.0 295.2L1454.5 294.7L1456.0 295.0L1457.5 294.2L1459.0 295.5L1460.5 295.7L1462.0 296.6L1463.5 296.5L1465.0 296.4L1466.5 296.9L1468.0 297.1L1469.5 296.9L1471.0 297.1L1472.5 296.8L1474.0 296.3L1475.5 297.3L1477.0 297.3L1478.5 297.1L1480.0 297.1L1481.5 297.4L1483.0 296.9L1484.5 296.8L1486.0 297.0L1487.5 297.5L1489.0 296.6L1490.5 297.5L1492.0 296.9L1493.5 296.7L1495.0 297.6L1496.5 297.1L1498.0 296.7L1499.5 297.0L1501.0 297.5L1502.5 297.6L1504.0 297.0L1505.5 297.3L1507.0 297.4L1508.5 296.9L1510.0 297.3L1511.5 297.1L1513.0 297.0L1514.5 297.0L1516.0 297.2L1517.5 297.2L1519.0 297.0L1520.5 297.0L1522.0 297.5L1523.5 297.2L1525.0 297.5L1526.5 297.6L1528.0 297.4L1529.5 297.9L1531.0 296.9L1532.5 297.4L1534.0 297.0L1535.5 297.8L1537.0 297.8L1538.5 296.5L1540.0 296.8L1541.5 297.4L1543.0 297.4L1544.5 297.4L1546.0 297.1L1547.5 297.3L1549.0 297.4L1550.5 297.1L1552.0 297.5L1553.5 296.4L1555.0 297.4L1556.5 296.8L1558.0 297.5L1559.5 297.1L1561.0 296.9L1562.5 297.3L1564.0 296.9L1565.5 297.0L1567.0 296.8L1568.5 297.5L1570.0 297.8L1571.5 298.1L1573.0 297.8L1574.5 298.4L1576.0 298.1L1577.5 298.2L1579.0 298.5L1580.5 298.7L1582.0 298.3L1583.5 298.4L1585.0 298.4L1586.5 298.5L1588.0 298.1L1589.5 298.8L1591.0 298.3L1592.5 298.6L1594.0 298.1L1595.5 298.6L1597.0 298.6L1598.5 298.3L1600.0 299.1L1601.5 298.5L1603.0 299.0L1604.5 298.7L1606.0 298.2L1607.5 298.3L1609.0 298.5L1610.5 298.4L1612.0 298.4L1613.5 298.3L1615.0 297.7L1616.5 298.3L1618.0 297.6L1619.5 298.5L1621.0 298.1L1622.5 298.1L1624.0 298.3L1625.5 298.4L1627.0 297.8L1628.5 297.7L1630.0 298.0L1631.5 297.6L1633.0 298.0L1634.5 298.9L1636.0 297.9L1637.5 298.5L1639.0 297.8L1640.5 298.4L1642.0 298.2L1643.5 298.3L1645.0 298.5L1646.5 298.9L1648.0 298.3L1649.5 298.3L1651.0 297.9L1652.5 298.5L1654.0 298.2L1655.5 298.5L1657.0 298.2L1658.5 298.9L1660.0 297.5L1661.5 298.1L1663.0 298.5L1664.5 298.1L1666.0 297.9L1667.5 298.1L1669.0 297.7L1670.5 298.2L1672.0 299.1L1673.5 298.6L1675.0 297.8L1676.5 297.9L1678.0 298.0L1679.5 298.4L1681.0 297.7L1682.5 297.6L1684.0 298.0L1685.5 297.9L1687.0 297.3L1688.5 296.9L1690.0 296.5L1691.5 296.7L1693.0 296.0L1694.5 296.8L1696.0 296.2L1697.5 296.4L1699.0 296.7L1700.5 296.2L1702.0 295.2L1703.5 295.7L1705.0 295.5L1706.5 294.6L1708.0 294.2L1709.5 294.3L1711.0 293.5L1712.5 294.3L1714.0 292.7L1715.5 293.0L1717.0 293.1" fill="none" stroke="#F29C28" stroke-width="7.5" stroke-linejoin="round"/>
<circle cx="672" cy="466.5" r="13.5" fill="#FF0000"/>
<circle cx="663.5" cy="597.5" r="13.3" fill="#FF0000"/>
<circle cx="670" cy="739" r="13.3" fill="#FF0000"/>
<text x="682.7" y="414.6" class="au">Au(111)</text>
<text x="686.3" y="596.2" class="au">Au(111)</text>
<text x="696.3" y="740" class="au">Au(111)</text>
<text transform="translate(535.2 138.7) rotate(-90)" class="hkl">(100)</text><text transform="translate(611.4 153.3) rotate(-90)" class="hkl">(002)</text><text transform="translate(694.5 129.6) rotate(-90)" class="hkl">(101)</text><text transform="translate(882.2 197.6) rotate(-90)" class="hkl">(102)</text><text transform="translate(1064.1 172.5) rotate(-90)" class="hkl">(110)</text><text transform="translate(1164.5 194.7) rotate(-90)" class="hkl">(103)</text><text transform="translate(1234.5 201.5) rotate(-90)" class="hkl">(200)</text><text transform="translate(1283.7 195.1) rotate(-90)" class="hkl">(112)</text><text transform="translate(1332.4 203.8) rotate(-90)" class="hkl">(201)</text><text transform="translate(1404.8 211.9) rotate(-90)" class="hkl">(004)</text><text transform="translate(647.8 972.9) rotate(-90)" class="hkl">(111)</text><text transform="translate(760.2 973.7) rotate(-90)" class="hkl">(200)</text><text transform="translate(1174.2 1021.2) rotate(-90)" class="hkl">(220)</text><text transform="translate(1446.6 1007.5) rotate(-90)" class="hkl">(311)</text><text transform="translate(1537.2 1018.5) rotate(-90)" class="hkl">(222)</text><text transform="translate(412.9 1180.6) rotate(-90)" class="hkl">(111)</text><text transform="translate(607.2 1183.2) rotate(-90)" class="hkl">(220)</text><text transform="translate(740.4 1203.2) rotate(-90)" class="hkl">(311)</text><text transform="translate(806.1 1211.3) rotate(-90)" class="hkl">(222)</text><text transform="translate(942.9 1215.7) rotate(-90)" class="hkl">(400)</text><text transform="translate(1028.7 1203.9) rotate(-90)" class="hkl">(331)</text><text transform="translate(1189.2 1203.7) rotate(-90)" class="hkl">(422)</text><text transform="translate(1285.6 1211.3) rotate(-90)" class="hkl">(511)</text><text transform="translate(1438.3 1211.3) rotate(-90)" class="hkl">(440)</text><text transform="translate(1497.2 1206.2) rotate(-90)" class="hkl">(531)</text><text transform="translate(1555.3 1223.2) rotate(-90)" class="hkl">(442)</text><text transform="translate(1636.3 1213.8) rotate(-90)" class="hkl">(620)</text><text transform="translate(1708.0 1210.5) rotate(-90)" class="hkl">(533)</text>
<line x1="1341.2" y1="79.3" x2="1457.8" y2="79.3" stroke="#F29C28" stroke-width="7.5" stroke-linecap="round"/>
<text x="1485.5" y="100" class="leg">Au/ZnO</text>
<line x1="1245" y1="350.7" x2="1377.5" y2="350.7" stroke="#5FB300" stroke-width="7.5" stroke-linecap="round"/>
<text x="1390" y="370.9" class="leg">Au/ZnO@Si</text>
<line x1="1095" y1="512.3" x2="1210.7" y2="512.3" stroke="#808080" stroke-width="7.5" stroke-linecap="round"/>
<text x="1238.5" y="532" class="leg">Au/ZnO@Si-c(0.5)</text>
<line x1="1092" y1="718" x2="1211" y2="718" stroke="#3D67B1" stroke-width="2.6"/>
<text x="1238.5" y="739.5" class="leg">Au/ZnO@Si-c(2.0)</text>
<polygon points="128.2,931.2 160.6,931.2 144.4,959.4" fill="#FF0000"/>
<text x="216" y="960.4" class="b" font-size="52.5">Au</text>
<polygon points="129.0,1141.9 146.4,1125.7 146.4,1158.1" fill="#42A800"/><polyline points="146.4,1125.7 163.8,1141.9 146.4,1158.1" fill="none" stroke="#8ED05A" stroke-width="2"/>
<text x="204.4" y="1158.4" class="b" font-size="54.5">SiO</text>
<text x="287.9" y="1175" class="b" font-size="37">2</text>
<path d="M100 30 H1720 M100 26 V874 M1720 26 V874" fill="none" stroke="#000" stroke-width="8"/>
<path d="M101.6 873 V1316 M1719.5 873 V1312" fill="none" stroke="#000" stroke-width="5.5"/>
<line x1="101" y1="1089" x2="1720" y2="1089" stroke="#000" stroke-width="4"/>
<line x1="99" y1="1310" x2="1722" y2="1310" stroke="#000" stroke-width="5"/>
<text x="101.5" y="1375" class="tick">10</text><text x="303.8" y="1375" class="tick">20</text><text x="506.0" y="1375" class="tick">30</text><text x="708.2" y="1375" class="tick">40</text><text x="910.5" y="1375" class="tick">50</text><text x="1112.8" y="1375" class="tick">60</text><text x="1315.0" y="1375" class="tick">70</text><text x="1517.2" y="1375" class="tick">80</text><text x="1719.5" y="1375" class="tick">90</text>
<text x="909.6" y="1469.7" class="b" font-size="58.5" text-anchor="middle">2 Theta (degree)</text>
<text transform="translate(63 613.15) rotate(-90)" class="b" font-size="63" text-anchor="middle">Intensity ( a.u. )</text>
</g>
</svg>
</body></html>
